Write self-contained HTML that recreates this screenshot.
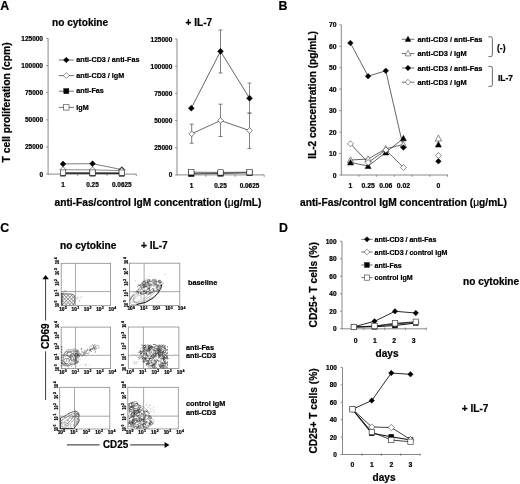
<!DOCTYPE html>
<html><head><meta charset="utf-8"><title>Figure</title>
<style>
html,body{margin:0;padding:0;background:#fff;}
body{width:520px;height:484px;overflow:hidden;font-family:"Liberation Sans",sans-serif;}
svg{display:block;filter:blur(0.35px)}
svg text{font-family:"Liberation Sans",sans-serif;font-weight:bold;stroke:#000;stroke-width:0.22px;}
</style></head><body>
<svg width="520" height="484" viewBox="0 0 520 484">
<rect width="520" height="484" fill="#fff"/>
<text transform="translate(0.2,10.0) scale(0.9,1)" font-size="13.7">A</text>
<text x="52" y="25.7" font-size="10.1" text-anchor="start" fill="#000" >no cytokine</text>
<text x="185.5" y="25.7" font-size="10.1" text-anchor="start" fill="#000" >+ IL-7</text>
<text x="9.7" y="102.4" font-size="10.3" text-anchor="middle" fill="#000" transform="rotate(-90 9.7 102.4)" >T cell proliferation (cpm)</text>
<line x1="48.1" y1="38.4" x2="48.1" y2="174.5" stroke="#6a6a6a" stroke-width="0.8"/>
<line x1="48.1" y1="174.1" x2="136.3" y2="174.1" stroke="#6a6a6a" stroke-width="0.8"/>
<line x1="77.7" y1="174.1" x2="77.7" y2="176.1" stroke="#6a6a6a" stroke-width="0.7"/>
<line x1="107" y1="174.1" x2="107" y2="176.1" stroke="#6a6a6a" stroke-width="0.7"/>
<line x1="136.3" y1="174.1" x2="136.3" y2="176.1" stroke="#6a6a6a" stroke-width="0.7"/>
<line x1="46.1" y1="174.1" x2="48.1" y2="174.1" stroke="#6a6a6a" stroke-width="0.7"/>
<text x="43.0" y="176.6" font-size="6.5" text-anchor="end" fill="#000" >0</text>
<line x1="46.1" y1="146.95999999999998" x2="48.1" y2="146.95999999999998" stroke="#6a6a6a" stroke-width="0.7"/>
<text x="43.0" y="149.45999999999998" font-size="6.5" text-anchor="end" fill="#000" >25000</text>
<line x1="46.1" y1="119.82" x2="48.1" y2="119.82" stroke="#6a6a6a" stroke-width="0.7"/>
<text x="43.0" y="122.32" font-size="6.5" text-anchor="end" fill="#000" >50000</text>
<line x1="46.1" y1="92.68" x2="48.1" y2="92.68" stroke="#6a6a6a" stroke-width="0.7"/>
<text x="43.0" y="95.18" font-size="6.5" text-anchor="end" fill="#000" >75000</text>
<line x1="46.1" y1="65.53999999999999" x2="48.1" y2="65.53999999999999" stroke="#6a6a6a" stroke-width="0.7"/>
<text x="43.0" y="68.03999999999999" font-size="6.5" text-anchor="end" fill="#000" >100000</text>
<line x1="46.1" y1="38.400000000000006" x2="48.1" y2="38.400000000000006" stroke="#6a6a6a" stroke-width="0.7"/>
<text x="43.0" y="40.900000000000006" font-size="6.5" text-anchor="end" fill="#000" >125000</text>
<text x="63" y="187.3" font-size="6.4" text-anchor="middle" fill="#000" >1</text>
<text x="92.5" y="187.3" font-size="6.4" text-anchor="middle" fill="#000" >0.25</text>
<text x="121.8" y="187.3" font-size="6.4" text-anchor="middle" fill="#000" >0.0625</text>
<polyline points="63,173.4 92.5,173.4 121.8,173.5" fill="none" stroke="#111" stroke-width="0.9"/>
<rect x="60.3" y="170.70000000000002" width="5.4" height="5.4" fill="#000" stroke="#000" stroke-width="0.5"/>
<rect x="89.8" y="170.70000000000002" width="5.4" height="5.4" fill="#000" stroke="#000" stroke-width="0.5"/>
<rect x="119.1" y="170.8" width="5.4" height="5.4" fill="#000" stroke="#000" stroke-width="0.5"/>
<polyline points="63,163.9 92.5,163.7 121.8,169.6" fill="none" stroke="#444" stroke-width="0.7"/>
<path d="M63 161.0L65.9 163.9L63 166.8L60.1 163.9Z" fill="#000" stroke="#000" stroke-width="0.5"/>
<path d="M92.5 160.79999999999998L95.4 163.7L92.5 166.6L89.6 163.7Z" fill="#000" stroke="#000" stroke-width="0.5"/>
<path d="M121.8 166.7L124.7 169.6L121.8 172.5L118.89999999999999 169.6Z" fill="#000" stroke="#000" stroke-width="0.5"/>
<polyline points="63,169.7 92.5,169.9 121.8,170.6" fill="none" stroke="#555" stroke-width="0.7"/>
<path d="M63 166.7L66.0 169.7L63 172.7L60.0 169.7Z" fill="#fff" stroke="#3a3a3a" stroke-width="0.6"/>
<path d="M92.5 166.9L95.5 169.9L92.5 172.9L89.5 169.9Z" fill="#fff" stroke="#3a3a3a" stroke-width="0.6"/>
<path d="M121.8 167.6L124.8 170.6L121.8 173.6L118.8 170.6Z" fill="#fff" stroke="#3a3a3a" stroke-width="0.6"/>
<polyline points="63,172.6 92.5,172.6 121.8,172.7" fill="none" stroke="#222" stroke-width="0.7"/>
<rect x="60.3" y="169.9" width="5.4" height="5.4" fill="#fff" stroke="#3a3a3a" stroke-width="0.65"/>
<rect x="89.8" y="169.9" width="5.4" height="5.4" fill="#fff" stroke="#3a3a3a" stroke-width="0.65"/>
<rect x="119.1" y="170.0" width="5.4" height="5.4" fill="#fff" stroke="#3a3a3a" stroke-width="0.65"/>
<line x1="58.8" y1="60" x2="73.8" y2="60" stroke="#333" stroke-width="0.7"/>
<path d="M66.3 57.2L69.1 60L66.3 62.8L63.5 60Z" fill="#000" stroke="#000" stroke-width="0.5"/>
<text x="76.3" y="62.1" font-size="7.2" text-anchor="start" fill="#000" >anti-CD3 / anti-Fas</text>
<line x1="58.8" y1="75.6" x2="73.8" y2="75.6" stroke="#333" stroke-width="0.7"/>
<path d="M66.3 72.6L69.3 75.6L66.3 78.6L63.3 75.6Z" fill="#fff" stroke="#3a3a3a" stroke-width="0.55"/>
<text x="76.3" y="77.69999999999999" font-size="7.2" text-anchor="start" fill="#000" >anti-CD3 / IgM</text>
<line x1="58.8" y1="91.2" x2="73.8" y2="91.2" stroke="#333" stroke-width="0.7"/>
<rect x="63.8" y="88.7" width="5.0" height="5.0" fill="#000" stroke="#000" stroke-width="0.5"/>
<text x="76.3" y="93.3" font-size="7.2" text-anchor="start" fill="#000" >anti-Fas</text>
<line x1="58.8" y1="107.4" x2="73.8" y2="107.4" stroke="#333" stroke-width="0.7"/>
<rect x="63.599999999999994" y="104.7" width="5.4" height="5.4" fill="#fff" stroke="#3a3a3a" stroke-width="0.6"/>
<text x="76.3" y="109.5" font-size="7.2" text-anchor="start" fill="#000" >IgM</text>
<line x1="177" y1="39.0" x2="177" y2="175.3" stroke="#6a6a6a" stroke-width="0.8"/>
<line x1="177" y1="174.9" x2="264.2" y2="174.9" stroke="#6a6a6a" stroke-width="0.8"/>
<line x1="206" y1="174.9" x2="206" y2="176.9" stroke="#6a6a6a" stroke-width="0.7"/>
<line x1="235.2" y1="174.9" x2="235.2" y2="176.9" stroke="#6a6a6a" stroke-width="0.7"/>
<line x1="264.2" y1="174.9" x2="264.2" y2="176.9" stroke="#6a6a6a" stroke-width="0.7"/>
<line x1="175" y1="174.9" x2="177" y2="174.9" stroke="#6a6a6a" stroke-width="0.7"/>
<text x="172.3" y="177.4" font-size="6.5" text-anchor="end" fill="#000" >0</text>
<line x1="175" y1="147.72" x2="177" y2="147.72" stroke="#6a6a6a" stroke-width="0.7"/>
<text x="172.3" y="150.22" font-size="6.5" text-anchor="end" fill="#000" >25000</text>
<line x1="175" y1="120.53999999999999" x2="177" y2="120.53999999999999" stroke="#6a6a6a" stroke-width="0.7"/>
<text x="172.3" y="123.03999999999999" font-size="6.5" text-anchor="end" fill="#000" >50000</text>
<line x1="175" y1="93.36" x2="177" y2="93.36" stroke="#6a6a6a" stroke-width="0.7"/>
<text x="172.3" y="95.86" font-size="6.5" text-anchor="end" fill="#000" >75000</text>
<line x1="175" y1="66.17999999999999" x2="177" y2="66.17999999999999" stroke="#6a6a6a" stroke-width="0.7"/>
<text x="172.3" y="68.67999999999999" font-size="6.5" text-anchor="end" fill="#000" >100000</text>
<line x1="175" y1="39.0" x2="177" y2="39.0" stroke="#6a6a6a" stroke-width="0.7"/>
<text x="172.3" y="41.5" font-size="6.5" text-anchor="end" fill="#000" >125000</text>
<text x="191.5" y="187.6" font-size="6.4" text-anchor="middle" fill="#000" >1</text>
<text x="220.5" y="187.6" font-size="6.4" text-anchor="middle" fill="#000" >0.25</text>
<text x="249.5" y="187.6" font-size="6.4" text-anchor="middle" fill="#000" >0.0625</text>
<line x1="220.5" y1="30" x2="220.5" y2="73" stroke="#555" stroke-width="0.75"/>
<line x1="218.5" y1="30" x2="222.5" y2="30" stroke="#555" stroke-width="0.75"/>
<line x1="218.5" y1="73" x2="222.5" y2="73" stroke="#555" stroke-width="0.75"/>
<line x1="249.5" y1="83" x2="249.5" y2="113" stroke="#666" stroke-width="0.75"/>
<line x1="247.5" y1="83" x2="251.5" y2="83" stroke="#666" stroke-width="0.75"/>
<line x1="247.5" y1="113" x2="251.5" y2="113" stroke="#666" stroke-width="0.75"/>
<line x1="191.7" y1="124.2" x2="191.7" y2="143.2" stroke="#555" stroke-width="0.75"/>
<line x1="189.7" y1="124.2" x2="193.7" y2="124.2" stroke="#555" stroke-width="0.75"/>
<line x1="189.7" y1="143.2" x2="193.7" y2="143.2" stroke="#555" stroke-width="0.75"/>
<line x1="220.5" y1="104.2" x2="220.5" y2="136.5" stroke="#555" stroke-width="0.75"/>
<line x1="218.5" y1="104.2" x2="222.5" y2="104.2" stroke="#555" stroke-width="0.75"/>
<line x1="218.5" y1="136.5" x2="222.5" y2="136.5" stroke="#555" stroke-width="0.75"/>
<line x1="249.5" y1="113.2" x2="249.5" y2="148.6" stroke="#555" stroke-width="0.75"/>
<line x1="247.5" y1="113.2" x2="251.5" y2="113.2" stroke="#555" stroke-width="0.75"/>
<line x1="247.5" y1="148.6" x2="251.5" y2="148.6" stroke="#555" stroke-width="0.75"/>
<polyline points="191.3,173.8 220.5,173.5 249.5,172.8" fill="none" stroke="#111" stroke-width="0.8"/>
<rect x="188.60000000000002" y="171.10000000000002" width="5.4" height="5.4" fill="#000" stroke="#000" stroke-width="0.5"/>
<rect x="217.8" y="170.8" width="5.4" height="5.4" fill="#000" stroke="#000" stroke-width="0.5"/>
<rect x="246.8" y="170.10000000000002" width="5.4" height="5.4" fill="#000" stroke="#000" stroke-width="0.5"/>
<polyline points="191.3,108.2 220.5,51.3 249.5,98.2" fill="none" stroke="#333" stroke-width="0.75"/>
<path d="M191.3 105.25L194.25 108.2L191.3 111.15L188.35000000000002 108.2Z" fill="#000" stroke="#000" stroke-width="0.5"/>
<path d="M220.5 48.349999999999994L223.45 51.3L220.5 54.25L217.55 51.3Z" fill="#000" stroke="#000" stroke-width="0.5"/>
<path d="M249.5 95.25L252.45 98.2L249.5 101.15L246.55 98.2Z" fill="#000" stroke="#000" stroke-width="0.5"/>
<polyline points="191.7,133.8 220.5,120.5 249.5,130.5" fill="none" stroke="#444" stroke-width="0.8"/>
<path d="M191.7 130.95000000000002L194.54999999999998 133.8L191.7 136.65L188.85 133.8Z" fill="#fff" stroke="#3a3a3a" stroke-width="0.65"/>
<path d="M220.5 117.65L223.35 120.5L220.5 123.35L217.65 120.5Z" fill="#fff" stroke="#3a3a3a" stroke-width="0.65"/>
<path d="M249.5 127.65L252.35 130.5L249.5 133.35L246.65 130.5Z" fill="#fff" stroke="#3a3a3a" stroke-width="0.65"/>
<polyline points="191.3,172.2 220.5,172.4 249.5,172.2" fill="none" stroke="#222" stroke-width="0.7"/>
<rect x="188.60000000000002" y="169.5" width="5.4" height="5.4" fill="#fff" stroke="#3a3a3a" stroke-width="0.65"/>
<rect x="217.8" y="169.70000000000002" width="5.4" height="5.4" fill="#fff" stroke="#3a3a3a" stroke-width="0.65"/>
<rect x="246.8" y="169.5" width="5.4" height="5.4" fill="#fff" stroke="#3a3a3a" stroke-width="0.65"/>
<text x="54.5" y="206.2" font-size="10.2" text-anchor="start" fill="#000" >anti-Fas/control IgM concentration (<tspan font-weight="normal">μ</tspan>g/mL)</text>
<text transform="translate(278.6,10.0) scale(0.9,1)" font-size="13.7">B</text>
<text x="315.8" y="95" font-size="10.15" text-anchor="middle" fill="#000" transform="rotate(-90 315.8 95)" >IL-2 concentration (pg/mL)</text>
<line x1="341.3" y1="24.8" x2="341.3" y2="175.4" stroke="#6a6a6a" stroke-width="0.8"/>
<line x1="341.3" y1="175.0" x2="448" y2="175.0" stroke="#6a6a6a" stroke-width="0.8"/>
<line x1="339.3" y1="175.0" x2="341.3" y2="175.0" stroke="#6a6a6a" stroke-width="0.7"/>
<text x="336.5" y="177.5" font-size="6.8" text-anchor="end" fill="#000" >0</text>
<line x1="339.3" y1="153.54285714285714" x2="341.3" y2="153.54285714285714" stroke="#6a6a6a" stroke-width="0.7"/>
<text x="336.5" y="156.04285714285714" font-size="6.8" text-anchor="end" fill="#000" >10</text>
<line x1="339.3" y1="132.0857142857143" x2="341.3" y2="132.0857142857143" stroke="#6a6a6a" stroke-width="0.7"/>
<text x="336.5" y="134.5857142857143" font-size="6.8" text-anchor="end" fill="#000" >20</text>
<line x1="339.3" y1="110.62857142857143" x2="341.3" y2="110.62857142857143" stroke="#6a6a6a" stroke-width="0.7"/>
<text x="336.5" y="113.12857142857143" font-size="6.8" text-anchor="end" fill="#000" >30</text>
<line x1="339.3" y1="89.17142857142858" x2="341.3" y2="89.17142857142858" stroke="#6a6a6a" stroke-width="0.7"/>
<text x="336.5" y="91.67142857142858" font-size="6.8" text-anchor="end" fill="#000" >40</text>
<line x1="339.3" y1="67.71428571428572" x2="341.3" y2="67.71428571428572" stroke="#6a6a6a" stroke-width="0.7"/>
<text x="336.5" y="70.21428571428572" font-size="6.8" text-anchor="end" fill="#000" >50</text>
<line x1="339.3" y1="46.25714285714287" x2="341.3" y2="46.25714285714287" stroke="#6a6a6a" stroke-width="0.7"/>
<text x="336.5" y="48.75714285714287" font-size="6.8" text-anchor="end" fill="#000" >60</text>
<line x1="339.3" y1="24.80000000000001" x2="341.3" y2="24.80000000000001" stroke="#6a6a6a" stroke-width="0.7"/>
<text x="336.5" y="27.30000000000001" font-size="6.8" text-anchor="end" fill="#000" >70</text>
<line x1="359.0" y1="175.0" x2="359.0" y2="176.8" stroke="#6a6a6a" stroke-width="0.7"/>
<line x1="376.7" y1="175.0" x2="376.7" y2="176.8" stroke="#6a6a6a" stroke-width="0.7"/>
<line x1="394.4" y1="175.0" x2="394.4" y2="176.8" stroke="#6a6a6a" stroke-width="0.7"/>
<line x1="412.1" y1="175.0" x2="412.1" y2="176.8" stroke="#6a6a6a" stroke-width="0.7"/>
<line x1="429.8" y1="175.0" x2="429.8" y2="176.8" stroke="#6a6a6a" stroke-width="0.7"/>
<line x1="447.5" y1="175.0" x2="447.5" y2="176.8" stroke="#6a6a6a" stroke-width="0.7"/>
<text x="350.5" y="187.9" font-size="6.8" text-anchor="middle" fill="#000" >1</text>
<text x="368.1" y="187.9" font-size="6.8" text-anchor="middle" fill="#000" >0.25</text>
<text x="385.8" y="187.9" font-size="6.8" text-anchor="middle" fill="#000" >0.06</text>
<text x="403.4" y="187.9" font-size="6.8" text-anchor="middle" fill="#000" >0.02</text>
<text x="438.4" y="187.9" font-size="6.8" text-anchor="middle" fill="#000" >0</text>
<polyline points="350.5,162.5 368.1,166 385.8,152.5 403.4,138.3" fill="none" stroke="#222" stroke-width="0.7"/>
<polyline points="350.5,160 368.1,159 385.8,148.8 403.4,144.5" fill="none" stroke="#222" stroke-width="0.7"/>
<polyline points="350.4,43 368.1,76.2 385.8,70.8 403.4,147.5" fill="none" stroke="#222" stroke-width="0.7"/>
<polyline points="350.5,143.8 368.1,162.5 385.8,150 403.4,167.5" fill="none" stroke="#222" stroke-width="0.7"/>
<path d="M350.5 156.8L353.7 162.72L347.3 162.72Z" fill="#fff" stroke="#3a3a3a" stroke-width="0.6"/>
<path d="M368.1 155.8L371.3 161.72L364.90000000000003 161.72Z" fill="#fff" stroke="#3a3a3a" stroke-width="0.6"/>
<path d="M385.8 145.60000000000002L389.0 151.52L382.6 151.52Z" fill="#fff" stroke="#3a3a3a" stroke-width="0.6"/>
<path d="M403.4 141.3L406.59999999999997 147.22L400.2 147.22Z" fill="#fff" stroke="#3a3a3a" stroke-width="0.6"/>
<path d="M350.5 159.5L353.5 165.05L347.5 165.05Z" fill="#000" stroke="#000" stroke-width="0.5"/>
<path d="M368.1 163.0L371.1 168.55L365.1 168.55Z" fill="#000" stroke="#000" stroke-width="0.5"/>
<path d="M385.8 149.5L388.8 155.05L382.8 155.05Z" fill="#000" stroke="#000" stroke-width="0.5"/>
<path d="M403.4 135.3L406.4 140.85000000000002L400.4 140.85000000000002Z" fill="#000" stroke="#000" stroke-width="0.5"/>
<path d="M350.5 140.8L353.5 143.8L350.5 146.8L347.5 143.8Z" fill="#fff" stroke="#3a3a3a" stroke-width="0.6"/>
<path d="M368.1 159.5L371.1 162.5L368.1 165.5L365.1 162.5Z" fill="#fff" stroke="#3a3a3a" stroke-width="0.6"/>
<path d="M385.8 147.0L388.8 150L385.8 153.0L382.8 150Z" fill="#fff" stroke="#3a3a3a" stroke-width="0.6"/>
<path d="M403.4 164.5L406.4 167.5L403.4 170.5L400.4 167.5Z" fill="#fff" stroke="#3a3a3a" stroke-width="0.6"/>
<path d="M350.4 40.2L353.2 43L350.4 45.8L347.59999999999997 43Z" fill="#000" stroke="#000" stroke-width="0.5"/>
<path d="M368.1 73.4L370.90000000000003 76.2L368.1 79.0L365.3 76.2Z" fill="#000" stroke="#000" stroke-width="0.5"/>
<path d="M385.8 68.0L388.6 70.8L385.8 73.6L383.0 70.8Z" fill="#000" stroke="#000" stroke-width="0.5"/>
<path d="M403.4 144.7L406.2 147.5L403.4 150.3L400.59999999999997 147.5Z" fill="#000" stroke="#000" stroke-width="0.5"/>
<path d="M438.4 135.10000000000002L441.59999999999997 141.02L435.2 141.02Z" fill="#fff" stroke="#3a3a3a" stroke-width="0.6"/>
<path d="M438.4 141.5L441.4 147.05L435.4 147.05Z" fill="#000" stroke="#000" stroke-width="0.5"/>
<path d="M438.4 152.5L441.4 155.5L438.4 158.5L435.4 155.5Z" fill="#fff" stroke="#3a3a3a" stroke-width="0.6"/>
<path d="M438.4 158.5L441.2 161.3L438.4 164.10000000000002L435.59999999999997 161.3Z" fill="#000" stroke="#000" stroke-width="0.5"/>
<line x1="401.8" y1="39.3" x2="414.5" y2="39.3" stroke="#333" stroke-width="0.7"/>
<path d="M408 36.2L410.8 41.38L405.2 41.38Z" fill="#000" stroke="#000" stroke-width="0.5"/>
<text x="417.5" y="41.9" font-size="7.4" text-anchor="start" fill="#000" >anti-CD3 / anti-Fas</text>
<line x1="401.8" y1="53.6" x2="414.5" y2="53.6" stroke="#333" stroke-width="0.7"/>
<path d="M408 50.300000000000004L411.0 55.85L405.0 55.85Z" fill="#fff" stroke="#3a3a3a" stroke-width="0.55"/>
<text x="417.5" y="56.2" font-size="7.4" text-anchor="start" fill="#000" >anti-CD3 / IgM</text>
<line x1="401.8" y1="68" x2="414.5" y2="68" stroke="#333" stroke-width="0.7"/>
<path d="M408 65.3L410.7 68L408 70.7L405.3 68Z" fill="#000" stroke="#000" stroke-width="0.5"/>
<text x="417.5" y="70.6" font-size="7.4" text-anchor="start" fill="#000" >anti-CD3 / anti-Fas</text>
<line x1="401.8" y1="82.2" x2="414.5" y2="82.2" stroke="#333" stroke-width="0.7"/>
<path d="M408 79.3L410.9 82.2L408 85.10000000000001L405.1 82.2Z" fill="#fff" stroke="#3a3a3a" stroke-width="0.55"/>
<text x="417.5" y="84.8" font-size="7.4" text-anchor="start" fill="#000" >anti-CD3 / IgM</text>
<path d="M488.4 36.8L490.79999999999995 36.8Q492.4 36.8 492.4 38.599999999999994L492.4 54.800000000000004Q492.4 56.6 490.79999999999995 56.6L488.4 56.6" fill="none" stroke="#444" stroke-width="0.8"/>
<path d="M488.4 66.4L490.79999999999995 66.4Q492.4 66.4 492.4 68.2L492.4 84.60000000000001Q492.4 86.4 490.79999999999995 86.4L488.4 86.4" fill="none" stroke="#444" stroke-width="0.8"/>
<text x="497" y="51" font-size="8.5" text-anchor="start" fill="#000" >(-)</text>
<text x="498" y="81" font-size="8.4" text-anchor="start" fill="#000" >IL-7</text>
<text x="300" y="206.2" font-size="10.2" text-anchor="start" fill="#000" >anti-Fas/control IgM concentration (<tspan font-weight="normal">μ</tspan>g/mL)</text>
<text transform="translate(0.3,231.7) scale(0.9,1)" font-size="13.7">C</text>
<text x="60" y="248.8" font-size="10.15" text-anchor="start" fill="#000" >no cytokine</text>
<text x="141" y="248.8" font-size="10.1" text-anchor="start" fill="#000" >+ IL-7</text>
<line x1="45.6" y1="279" x2="45.6" y2="320.5" stroke="#222" stroke-width="0.9"/>
<line x1="45.6" y1="351.3" x2="45.6" y2="400" stroke="#222" stroke-width="0.9"/>
<path d="M45.6 275.0L48.9 279.3L42.4 279.3Z" fill="#000"/>
<text x="48.8" y="336.2" font-size="10.6" text-anchor="middle" fill="#000" transform="rotate(-90 48.8 336.2)" textLength="25.8" lengthAdjust="spacingAndGlyphs">CD69</text>
<line x1="66.9" y1="444.9" x2="99.5" y2="444.9" stroke="#111" stroke-width="0.9"/>
<line x1="130.2" y1="444.9" x2="165.5" y2="444.9" stroke="#111" stroke-width="0.9"/>
<path d="M169.4 445L164.6 442L164.6 448Z" fill="#000"/>
<text x="103" y="448.1" font-size="10.4" text-anchor="start" fill="#000" textLength="25.2" lengthAdjust="spacingAndGlyphs">CD25</text>
<text x="188" y="285.1" font-size="7.3" text-anchor="start" fill="#000" >baseline</text>
<text x="186" y="349.7" font-size="7.3" text-anchor="start" fill="#000" >anti-Fas</text>
<text x="186" y="358.2" font-size="7.3" text-anchor="start" fill="#000" >anti-CD3</text>
<text x="186" y="406.3" font-size="7.3" text-anchor="start" fill="#000" >control IgM</text>
<text x="186" y="414.8" font-size="7.3" text-anchor="start" fill="#000" >anti-CD3</text>
<rect x="61.2" y="263.3" width="49.39999999999999" height="42.39999999999998" fill="#fff" stroke="#8a8a8a" stroke-width="0.8"/>
<line x1="75.4" y1="263.3" x2="75.4" y2="305.7" stroke="#8a8a8a" stroke-width="0.75"/>
<line x1="61.2" y1="291.6" x2="110.6" y2="291.6" stroke="#8a8a8a" stroke-width="0.75"/>
<text x="61.8" y="310.70" font-size="4.8" text-anchor="middle" fill="#000" stroke="#000" stroke-width="0.3">10</text>
<text x="64.8" y="308.90" font-size="3.5" text-anchor="start" fill="#000" stroke="#000" stroke-width="0.3">0</text>
<text transform="translate(59.2 305.2) rotate(-90) scale(0.72 1.04)" font-size="5.3" text-anchor="middle" fill="#000" stroke="#000" stroke-width="0.3">10</text>
<text transform="translate(57.2 302.4) rotate(-90) scale(0.95 1.04)" font-size="3.6" text-anchor="start" fill="#000" stroke="#000" stroke-width="0.3">0</text>
<text x="74.2" y="310.70" font-size="4.8" text-anchor="middle" fill="#000" stroke="#000" stroke-width="0.3">10</text>
<text x="77.2" y="308.90" font-size="3.5" text-anchor="start" fill="#000" stroke="#000" stroke-width="0.3">1</text>
<text transform="translate(59.2 294.4) rotate(-90) scale(0.72 1.04)" font-size="5.3" text-anchor="middle" fill="#000" stroke="#000" stroke-width="0.3">10</text>
<text transform="translate(57.2 291.6) rotate(-90) scale(0.95 1.04)" font-size="3.6" text-anchor="start" fill="#000" stroke="#000" stroke-width="0.3">1</text>
<text x="86.5" y="310.70" font-size="4.8" text-anchor="middle" fill="#000" stroke="#000" stroke-width="0.3">10</text>
<text x="89.5" y="308.90" font-size="3.5" text-anchor="start" fill="#000" stroke="#000" stroke-width="0.3">2</text>
<text transform="translate(59.2 283.6) rotate(-90) scale(0.72 1.04)" font-size="5.3" text-anchor="middle" fill="#000" stroke="#000" stroke-width="0.3">10</text>
<text transform="translate(57.2 280.9) rotate(-90) scale(0.95 1.04)" font-size="3.6" text-anchor="start" fill="#000" stroke="#000" stroke-width="0.3">2</text>
<text x="98.8" y="310.70" font-size="4.8" text-anchor="middle" fill="#000" stroke="#000" stroke-width="0.3">10</text>
<text x="101.8" y="308.90" font-size="3.5" text-anchor="start" fill="#000" stroke="#000" stroke-width="0.3">3</text>
<text transform="translate(59.2 272.8) rotate(-90) scale(0.72 1.04)" font-size="5.3" text-anchor="middle" fill="#000" stroke="#000" stroke-width="0.3">10</text>
<text transform="translate(57.2 270.1) rotate(-90) scale(0.95 1.04)" font-size="3.6" text-anchor="start" fill="#000" stroke="#000" stroke-width="0.3">3</text>
<text x="111.2" y="310.70" font-size="4.8" text-anchor="middle" fill="#000" stroke="#000" stroke-width="0.3">10</text>
<text x="114.2" y="308.90" font-size="3.5" text-anchor="start" fill="#000" stroke="#000" stroke-width="0.3">4</text>
<text transform="translate(59.2 262.0) rotate(-90) scale(0.72 1.04)" font-size="5.3" text-anchor="middle" fill="#000" stroke="#000" stroke-width="0.3">10</text>
<text transform="translate(57.2 259.2) rotate(-90) scale(0.95 1.04)" font-size="3.6" text-anchor="start" fill="#000" stroke="#000" stroke-width="0.3">4</text>
<clipPath id="c1"><rect x="61.400000000000006" y="263.3" width="49.19999999999999" height="42.299999999999976"/></clipPath>
<g clip-path="url(#c1)">
<clipPath id="b1"><path d="M61.3 293.8L71.5 294Q74.6 294.2 74.7 297L74.7 302Q74.4 305.3 72 305.5L61.3 305.5Z"/></clipPath>
<path d="M61.3 293.8L71.5 294Q74.6 294.2 74.7 297L74.7 302Q74.4 305.3 72 305.5L61.3 305.5Z" fill="#f4f4f4" stroke="none"/>
<g clip-path="url(#b1)">
<path d="M39.4 292L53.4 306M53.4 292L39.4 306M43.0 292L57.0 306M57.0 292L43.0 306M46.6 292L60.6 306M60.6 292L46.6 306M50.2 292L64.2 306M64.2 292L50.2 306M53.8 292L67.8 306M67.8 292L53.8 306M57.4 292L71.4 306M71.4 292L57.4 306M61.0 292L75.0 306M75.0 292L61.0 306M64.6 292L78.6 306M78.6 292L64.6 306M68.2 292L82.2 306M82.2 292L68.2 306M71.8 292L85.8 306M85.8 292L71.8 306M75.4 292L89.4 306M89.4 292L75.4 306M79.0 292L93.0 306M93.0 292L79.0 306M82.6 292L96.6 306M96.6 292L82.6 306M86.2 292L100.2 306M100.2 292L86.2 306M89.8 292L103.8 306M103.8 292L89.8 306M93.4 292L107.4 306M107.4 292L93.4 306M97.0 292L111.0 306M111.0 292L97.0 306M100.6 292L114.6 306M114.6 292L100.6 306" stroke="#777" stroke-width="0.75" fill="none"/>
</g>
<path d="M61.3 293.8L71.5 294Q74.6 294.2 74.7 297L74.7 302Q74.4 305.3 72 305.5L61.3 305.5Z" fill="none" stroke="#555" stroke-width="0.75"/>
<line x1="61.8" y1="292.8" x2="61.8" y2="305.6" stroke="#000" stroke-width="1.1"/>
<path d="M77.9 296.8l-0.3 0.6M79.2 297.8l1.4 0.3M76.2 298.2l0.7 0.2M78.5 300.1l0.9 0.4M79.8 300.7l-0.3 1.2M81.9 296.2l-1.0 0.5M76.9 296.6l1.1 1.6M77.1 298.9l-0.5 1.1" stroke="#999" stroke-width="0.4" fill="none" stroke-linecap="round"/>
<path d="M65.2 290.2l0.9 0.2M65.7 291.1l0.8 1.3M64.8 290.7l-1.4 1.0M64.0 291.4l-0.2 2.0" stroke="#777" stroke-width="0.4" fill="none" stroke-linecap="round"/>
</g>
<rect x="129.5" y="263.2" width="50.30000000000001" height="42.19999999999999" fill="#fff" stroke="#8a8a8a" stroke-width="0.8"/>
<line x1="144.1" y1="263.2" x2="144.1" y2="305.4" stroke="#8a8a8a" stroke-width="0.75"/>
<line x1="129.5" y1="291.7" x2="179.8" y2="291.7" stroke="#8a8a8a" stroke-width="0.75"/>
<text x="130.1" y="310.40" font-size="4.8" text-anchor="middle" fill="#000" stroke="#000" stroke-width="0.3">10</text>
<text x="133.1" y="308.60" font-size="3.5" text-anchor="start" fill="#000" stroke="#000" stroke-width="0.3">0</text>
<text transform="translate(127.5 305.1) rotate(-90) scale(0.72 1.04)" font-size="5.3" text-anchor="middle" fill="#000" stroke="#000" stroke-width="0.3">10</text>
<text transform="translate(125.5 302.3) rotate(-90) scale(0.95 1.04)" font-size="3.6" text-anchor="start" fill="#000" stroke="#000" stroke-width="0.3">0</text>
<text x="142.7" y="310.40" font-size="4.8" text-anchor="middle" fill="#000" stroke="#000" stroke-width="0.3">10</text>
<text x="145.7" y="308.60" font-size="3.5" text-anchor="start" fill="#000" stroke="#000" stroke-width="0.3">1</text>
<text transform="translate(127.5 294.3) rotate(-90) scale(0.72 1.04)" font-size="5.3" text-anchor="middle" fill="#000" stroke="#000" stroke-width="0.3">10</text>
<text transform="translate(125.5 291.5) rotate(-90) scale(0.95 1.04)" font-size="3.6" text-anchor="start" fill="#000" stroke="#000" stroke-width="0.3">1</text>
<text x="155.2" y="310.40" font-size="4.8" text-anchor="middle" fill="#000" stroke="#000" stroke-width="0.3">10</text>
<text x="158.2" y="308.60" font-size="3.5" text-anchor="start" fill="#000" stroke="#000" stroke-width="0.3">2</text>
<text transform="translate(127.5 283.5) rotate(-90) scale(0.72 1.04)" font-size="5.3" text-anchor="middle" fill="#000" stroke="#000" stroke-width="0.3">10</text>
<text transform="translate(125.5 280.8) rotate(-90) scale(0.95 1.04)" font-size="3.6" text-anchor="start" fill="#000" stroke="#000" stroke-width="0.3">2</text>
<text x="167.8" y="310.40" font-size="4.8" text-anchor="middle" fill="#000" stroke="#000" stroke-width="0.3">10</text>
<text x="170.8" y="308.60" font-size="3.5" text-anchor="start" fill="#000" stroke="#000" stroke-width="0.3">3</text>
<text transform="translate(127.5 272.7) rotate(-90) scale(0.72 1.04)" font-size="5.3" text-anchor="middle" fill="#000" stroke="#000" stroke-width="0.3">10</text>
<text transform="translate(125.5 269.9) rotate(-90) scale(0.95 1.04)" font-size="3.6" text-anchor="start" fill="#000" stroke="#000" stroke-width="0.3">3</text>
<text x="180.4" y="310.40" font-size="4.8" text-anchor="middle" fill="#000" stroke="#000" stroke-width="0.3">10</text>
<text x="183.4" y="308.60" font-size="3.5" text-anchor="start" fill="#000" stroke="#000" stroke-width="0.3">4</text>
<text transform="translate(127.5 261.9) rotate(-90) scale(0.72 1.04)" font-size="5.3" text-anchor="middle" fill="#000" stroke="#000" stroke-width="0.3">10</text>
<text transform="translate(125.5 259.1) rotate(-90) scale(0.95 1.04)" font-size="3.6" text-anchor="start" fill="#000" stroke="#000" stroke-width="0.3">4</text>
<clipPath id="c2"><rect x="129.7" y="263.2" width="50.10000000000001" height="42.09999999999999"/></clipPath>
<g clip-path="url(#c2)">
<path d="M160.1 282.8L160.9 284.5L160.1 286.9L159.1 289.4L158.1 292.2L155.6 295.3L151.6 297.9L147.9 299.9L144.3 301.9L140.7 303.5L137.4 304.3L134.3 304.8L131.7 304.6L130.4 303.1L130.0 301.2L129.8 299.1L131.2 296.3L134.2 293.4L137.0 290.7L139.5 287.9L142.9 285.0L146.8 283.0L150.5 281.6L153.9 280.8L156.6 281.0L158.4 281.8Z" fill="none" stroke="#777" stroke-width="0.5" stroke-linejoin="round"/>
<path d="M157.3 285.1L157.9 286.4L157.6 288.2L156.0 290.4L154.2 292.7L152.2 294.9L149.4 296.9L146.5 298.5L143.7 300.6L140.3 302.9L137.4 303.7L135.9 302.9L134.6 302.1L133.3 301.5L133.1 300.1L133.5 298.4L133.9 296.6L135.4 294.4L137.8 292.1L140.2 289.7L143.1 287.4L146.3 286.2L148.7 286.0L151.1 285.3L154.2 284.1L156.4 284.0Z" fill="none" stroke="#777" stroke-width="0.45" stroke-linejoin="round"/>
<path d="M149.8 290.1L150.1 291.1L149.3 292.6L148.6 294.0L147.9 295.4L146.2 296.9L144.2 298.1L142.7 299.4L140.8 301.3L138.6 302.4L136.9 302.5L135.7 302.3L134.7 302.0L134.4 301.1L134.0 300.3L133.6 299.5L134.1 298.1L135.5 296.6L136.6 295.0L137.9 293.3L140.1 291.9L142.1 291.6L143.7 291.1L145.6 290.1L147.3 289.7L148.6 289.8Z" fill="none" stroke="#888" stroke-width="0.45" stroke-linejoin="round"/>
<path d="M140.8 296.6L141.1 297.0L141.9 297.3L141.9 298.0L141.0 299.0L140.3 299.8L139.6 300.7L138.5 301.5L137.4 301.7L136.4 301.9L135.6 302.1L134.8 302.1L133.9 302.3L132.7 302.4L132.5 301.7L133.4 300.6L134.0 299.8L134.1 299.0L134.8 298.2L135.8 297.6L136.7 296.9L137.6 296.0L138.8 295.4L139.8 295.2L140.7 295.2L141.1 295.7Z" fill="none" stroke="#888" stroke-width="0.45" stroke-linejoin="round"/>
<path d="M136.5 304.6Q146 303.6 153.5 297.8Q158.5 293.6 160.8 288.5L161.8 284.5" fill="none" stroke="#111" stroke-width="0.95"/>
<path d="M130.3 300.5L131.5 297.5L134 294.5" fill="none" stroke="#333" stroke-width="0.7"/>
<path d="M160.3 282.3l-0.8 1.1M151.4 284.8l-1.7 0.9M148.2 288.3l1.5 0.3M158.7 281.8l0.5 1.4M145.7 291.8l1.1 0.3M150.5 292.0l-1.5 1.0M142.4 284.1l0.8 1.6M141.0 285.2l-0.2 0.9M145.1 286.6l-1.5 0.2M149.5 287.5l-0.3 0.5M145.8 283.8l1.4 0.5M152.4 279.5l0.7 0.7M148.0 285.2l0.6 0.2M144.3 281.5l-0.6 0.4M149.8 279.5l-0.1 0.5M149.8 293.6l-1.4 0.6M141.8 283.2l1.4 0.8M150.0 290.2l0.4 0.7M158.5 289.6l1.0 0.8M141.8 288.8l-1.2 0.2M152.7 292.3l-1.1 0.6M153.6 290.6l1.4 0.4M156.5 285.1l1.4 0.9M144.0 290.6l-1.1 0.1M146.0 293.1l-0.5 0.6M138.4 291.1l-1.5 0.1M144.5 286.3l0.5 0.2M149.8 292.9l0.4 1.8M158.8 280.6l0.7 0.7M141.2 287.0l0.8 0.8M144.6 284.8l-0.5 1.8M146.6 292.6l-0.0 1.3M147.2 280.1l1.7 0.0M139.2 285.0l-0.9 1.0M143.8 285.8l-0.3 1.7M137.2 286.5l0.7 0.6M157.2 285.6l-0.3 1.6M161.4 284.5l-0.4 1.2M149.4 288.8l0.2 1.3M148.3 293.0l-1.1 1.5M150.8 293.0l-0.6 0.3M138.6 289.2l-0.3 0.6M140.6 293.2l0.4 1.2M138.8 284.3l-0.0 1.0M150.6 284.5l1.0 0.1M152.7 285.7l1.9 0.4M146.7 292.5l-0.7 0.5M138.5 292.6l-0.3 1.5M154.6 284.2l1.9 0.4M153.0 290.6l1.7 0.5M147.6 282.8l-0.3 1.9M149.8 281.1l0.7 0.3M143.4 282.2l-0.7 0.6M149.0 280.0l0.2 0.5M156.0 286.4l1.0 0.7M158.6 284.3l0.0 1.8M145.8 285.6l-1.1 1.6M144.3 291.1l-0.9 1.2M146.1 282.9l0.7 0.1M142.8 284.8l1.0 0.6M141.9 293.4l-1.3 0.1M141.3 293.4l0.6 0.9M148.2 285.5l1.0 0.7M151.6 286.0l-1.1 1.0M145.7 282.5l-0.7 0.0M155.7 287.9l1.7 0.2M156.0 290.8l1.2 0.5M149.1 291.2l-1.4 1.0M151.5 292.2l-0.8 1.3M137.1 291.2l-0.3 1.4M152.8 288.6l0.0 0.5M157.9 289.7l-0.0 1.3M156.1 281.3l0.9 0.2M155.9 280.5l-1.3 1.4M148.8 283.5l0.1 1.5M157.0 287.5l-0.3 0.6M156.3 282.2l-0.1 0.5M154.2 288.8l-0.5 0.8M149.5 284.9l0.1 0.7M160.8 280.4l-1.9 0.1M147.5 281.6l1.5 1.2M140.3 286.9l1.2 0.6M158.6 285.6l-1.5 0.5M140.9 292.3l0.0 0.5M147.5 282.1l0.9 0.4M143.5 291.3l1.6 0.0M161.0 281.9l0.4 1.0M144.8 284.3l0.4 0.4M137.1 291.2l1.2 1.5M149.3 280.2l0.7 1.8M152.9 292.5l-1.3 0.2M156.0 284.7l-1.0 1.0M148.2 282.8l1.0 1.3M153.7 282.1l-0.2 1.1M140.2 292.4l0.0 0.8M151.1 292.1l-0.8 0.8M146.4 285.9l0.4 0.9M149.1 287.7l-0.7 0.3M146.0 284.6l-1.8 0.3M160.9 285.0l-0.1 0.5M145.7 292.8l-1.5 0.9M149.7 288.6l-1.6 0.3M153.4 290.0l0.2 1.3M141.0 292.6l-0.4 0.9M153.1 288.9l0.6 0.2M149.7 286.9l0.3 0.8M143.0 284.8l-1.5 0.2M160.5 285.1l0.6 0.6M148.9 288.5l0.2 0.9M144.1 284.1l-0.4 0.7M157.9 289.6l-0.0 0.8M158.6 280.9l1.3 1.1M142.8 293.2l0.0 0.8M140.7 284.1l-1.0 1.7M140.4 293.6l0.5 0.2M161.9 282.6l1.6 1.0M153.9 283.4l0.4 0.9M142.4 283.0l-0.7 0.1M144.7 291.0l-1.0 0.6M145.2 292.6l0.9 0.6M146.3 290.8l-0.4 0.4M161.6 281.4l-1.3 1.3M144.2 281.6l-1.4 0.2M141.9 289.2l0.5 0.8M141.0 285.1l-1.9 0.3M145.6 281.3l0.3 1.2M158.1 289.6l-1.4 0.9M152.2 282.6l0.6 0.9M139.9 289.8l0.4 0.4M143.8 293.7l-1.9 0.7M155.3 284.6l0.8 0.8M152.6 288.5l-1.2 1.3M153.9 279.1l-0.8 0.5M151.0 283.3l-0.5 0.6M138.6 292.0l-0.2 1.0" stroke="#333" stroke-width="0.45" fill="none" stroke-linecap="round"/>
<path d="M145.6 292.5L145.6 292.0L145.7 291.4L146.4 291.0L146.9 291.2L147.5 291.2L147.7 291.7L147.1 292.3L146.6 292.7L145.9 293.0Z" fill="none" stroke="#555" stroke-width="0.4" stroke-linejoin="round"/>
<path d="M150.3 290.1L149.2 290.6L148.7 291.1L147.7 291.3L147.0 290.5L147.4 289.7L147.1 288.7L148.1 288.3L148.9 288.8L149.6 289.2Z" fill="none" stroke="#555" stroke-width="0.4" stroke-linejoin="round"/>
<path d="M158.9 287.7L159.3 286.9L159.3 286.0L160.3 285.9L161.2 285.9L161.7 286.4L162.1 287.1L161.0 287.6L160.4 288.2L159.4 288.2Z" fill="none" stroke="#555" stroke-width="0.4" stroke-linejoin="round"/>
<path d="M160.9 282.3L160.0 282.1L159.4 282.3L158.6 281.9L158.5 281.1L159.0 280.7L159.2 279.9L160.0 280.3L160.5 280.8L160.8 281.4Z" fill="none" stroke="#555" stroke-width="0.4" stroke-linejoin="round"/>
<path d="M144.6 287.2L144.1 287.7L143.4 287.9L142.5 288.3L142.2 287.6L142.0 287.2L142.0 286.6L142.7 286.2L143.4 286.6L144.3 286.7Z" fill="none" stroke="#555" stroke-width="0.4" stroke-linejoin="round"/>
<path d="M146.1 282.8L145.6 283.4L144.7 283.5L143.9 283.3L142.9 283.0L143.3 282.2L143.6 281.6L144.3 281.1L145.2 281.3L145.4 282.1Z" fill="none" stroke="#555" stroke-width="0.4" stroke-linejoin="round"/>
<path d="M152.6 282.1L152.2 281.7L151.7 281.6L151.5 281.0L151.7 280.5L152.2 280.5L152.6 280.1L152.9 280.7L153.0 281.1L152.9 281.6Z" fill="none" stroke="#555" stroke-width="0.4" stroke-linejoin="round"/>
<path d="M143.4 287.3L143.5 286.7L143.9 286.3L144.5 286.1L145.2 285.9L145.3 286.4L145.4 286.9L145.1 287.4L144.5 287.7L144.1 287.4Z" fill="none" stroke="#555" stroke-width="0.4" stroke-linejoin="round"/>
<path d="M154.6 283.0L154.2 283.1L153.8 282.9L153.9 282.4L154.0 282.0L154.3 281.7L154.7 281.8L154.9 282.2L155.3 282.5L155.0 282.9Z" fill="none" stroke="#555" stroke-width="0.4" stroke-linejoin="round"/>
<path d="M147.8 282.5L147.4 282.4L147.4 281.9L147.8 281.6L148.0 281.2L148.4 281.2L148.5 281.6L148.6 282.0L148.6 282.5L148.1 282.5Z" fill="none" stroke="#555" stroke-width="0.4" stroke-linejoin="round"/>
<path d="M145.8 286.9L145.4 286.8L145.3 286.3L145.5 285.8L145.5 285.2L146.0 285.2L146.2 285.5L146.5 285.8L146.6 286.4L146.1 286.6Z" fill="none" stroke="#555" stroke-width="0.4" stroke-linejoin="round"/>
<path d="M147.3 281.0L147.3 280.4L147.8 279.7L148.7 279.3L149.3 279.9L150.2 280.1L150.0 280.9L149.4 281.5L148.5 281.6L147.4 281.9Z" fill="none" stroke="#555" stroke-width="0.4" stroke-linejoin="round"/>
<path d="M154.7 283.4L154.9 282.6L155.2 282.1L155.7 281.7L156.4 281.4L156.5 282.3L156.9 282.7L156.7 283.4L156.1 283.7L155.5 283.3Z" fill="none" stroke="#555" stroke-width="0.4" stroke-linejoin="round"/>
<path d="M149.0 285.2L148.6 284.9L148.9 284.4L149.2 284.2L149.6 283.8L150.0 283.9L150.0 284.4L150.0 284.8L149.7 285.3L149.3 285.2Z" fill="none" stroke="#555" stroke-width="0.4" stroke-linejoin="round"/>
<path d="M154.7 281.8L154.3 281.4L154.2 280.6L154.3 279.6L155.0 279.4L155.6 279.0L156.1 279.5L156.2 280.3L155.8 281.0L155.4 282.0Z" fill="none" stroke="#555" stroke-width="0.4" stroke-linejoin="round"/>
<path d="M147.3 288.1L146.7 287.9L146.2 287.5L146.1 286.8L146.4 286.3L146.9 285.9L147.5 286.0L147.9 286.5L148.0 287.2L147.8 287.8Z" fill="none" stroke="#555" stroke-width="0.4" stroke-linejoin="round"/>
<path d="M145.9 280.6l-0.8 0.7M146.7 280.9l0.0 0.5M156.1 282.4l0.7 0.2M149.0 280.5l-0.2 0.4M149.7 276.2l-0.0 0.4M144.2 280.4l-0.5 0.1M165.5 274.0l-0.7 0.8M157.9 287.1l0.0 1.2M154.6 279.7l-0.9 0.7M157.0 281.4l-0.4 0.4M155.5 279.3l-0.4 0.3M135.3 280.4l0.5 0.4M144.9 280.4l0.5 0.1M159.7 285.5l-0.6 0.9M157.0 284.3l0.8 0.3M146.7 278.7l-0.8 0.3" stroke="#777" stroke-width="0.4" fill="none" stroke-linecap="round"/>
</g>
<rect x="61.2" y="327.1" width="49.39999999999999" height="41.5" fill="#fff" stroke="#8a8a8a" stroke-width="0.8"/>
<line x1="75.4" y1="327.1" x2="75.4" y2="368.6" stroke="#8a8a8a" stroke-width="0.75"/>
<line x1="61.2" y1="355.3" x2="110.6" y2="355.3" stroke="#8a8a8a" stroke-width="0.75"/>
<text x="61.8" y="373.60" font-size="4.8" text-anchor="middle" fill="#000" stroke="#000" stroke-width="0.3">10</text>
<text x="64.8" y="371.80" font-size="3.5" text-anchor="start" fill="#000" stroke="#000" stroke-width="0.3">0</text>
<text transform="translate(59.2 369.0) rotate(-90) scale(0.72 1.04)" font-size="5.3" text-anchor="middle" fill="#000" stroke="#000" stroke-width="0.3">10</text>
<text transform="translate(57.2 366.2) rotate(-90) scale(0.95 1.04)" font-size="3.6" text-anchor="start" fill="#000" stroke="#000" stroke-width="0.3">0</text>
<text x="74.2" y="373.60" font-size="4.8" text-anchor="middle" fill="#000" stroke="#000" stroke-width="0.3">10</text>
<text x="77.2" y="371.80" font-size="3.5" text-anchor="start" fill="#000" stroke="#000" stroke-width="0.3">1</text>
<text transform="translate(59.2 358.2) rotate(-90) scale(0.72 1.04)" font-size="5.3" text-anchor="middle" fill="#000" stroke="#000" stroke-width="0.3">10</text>
<text transform="translate(57.2 355.5) rotate(-90) scale(0.95 1.04)" font-size="3.6" text-anchor="start" fill="#000" stroke="#000" stroke-width="0.3">1</text>
<text x="86.5" y="373.60" font-size="4.8" text-anchor="middle" fill="#000" stroke="#000" stroke-width="0.3">10</text>
<text x="89.5" y="371.80" font-size="3.5" text-anchor="start" fill="#000" stroke="#000" stroke-width="0.3">2</text>
<text transform="translate(59.2 347.4) rotate(-90) scale(0.72 1.04)" font-size="5.3" text-anchor="middle" fill="#000" stroke="#000" stroke-width="0.3">10</text>
<text transform="translate(57.2 344.7) rotate(-90) scale(0.95 1.04)" font-size="3.6" text-anchor="start" fill="#000" stroke="#000" stroke-width="0.3">2</text>
<text x="98.8" y="373.60" font-size="4.8" text-anchor="middle" fill="#000" stroke="#000" stroke-width="0.3">10</text>
<text x="101.8" y="371.80" font-size="3.5" text-anchor="start" fill="#000" stroke="#000" stroke-width="0.3">3</text>
<text transform="translate(59.2 336.6) rotate(-90) scale(0.72 1.04)" font-size="5.3" text-anchor="middle" fill="#000" stroke="#000" stroke-width="0.3">10</text>
<text transform="translate(57.2 333.9) rotate(-90) scale(0.95 1.04)" font-size="3.6" text-anchor="start" fill="#000" stroke="#000" stroke-width="0.3">3</text>
<text x="111.2" y="373.60" font-size="4.8" text-anchor="middle" fill="#000" stroke="#000" stroke-width="0.3">10</text>
<text x="114.2" y="371.80" font-size="3.5" text-anchor="start" fill="#000" stroke="#000" stroke-width="0.3">4</text>
<text transform="translate(59.2 325.8) rotate(-90) scale(0.72 1.04)" font-size="5.3" text-anchor="middle" fill="#000" stroke="#000" stroke-width="0.3">10</text>
<text transform="translate(57.2 323.1) rotate(-90) scale(0.95 1.04)" font-size="3.6" text-anchor="start" fill="#000" stroke="#000" stroke-width="0.3">4</text>
<clipPath id="c3"><rect x="61.400000000000006" y="327.1" width="49.19999999999999" height="41.4"/></clipPath>
<g clip-path="url(#c3)">
<path d="M69.3 361.0L69.3 361.6L69.0 362.2L68.6 362.7L68.2 363.2L67.6 363.6L66.9 363.8L66.1 363.9L65.4 363.6L65.0 363.1L64.6 362.6L64.0 362.2L63.6 361.7L63.5 361.0L63.7 360.3L63.8 359.7L64.3 359.2L64.9 358.8L65.5 358.5L66.2 358.4L66.8 358.5L67.5 358.6L68.2 358.6L68.9 359.0L69.1 359.7L69.2 360.4Z" fill="none" stroke="#333" stroke-width="0.6" stroke-linejoin="round"/>
<path d="M71.4 358.7L71.5 359.7L72.0 360.8L72.2 362.1L71.2 363.1L69.9 363.5L69.0 364.0L68.2 364.8L67.1 365.1L65.9 365.1L64.7 365.0L63.7 364.3L63.1 363.3L62.5 362.4L62.1 361.3L62.5 360.2L63.2 359.3L63.3 358.2L63.4 356.9L64.4 356.1L65.7 355.9L66.9 355.8L68.0 356.0L69.0 356.6L69.9 357.1L70.9 357.7Z" fill="none" stroke="#444" stroke-width="0.5" stroke-linejoin="round"/>
<path d="M74.6 354.8L75.7 356.1L75.5 357.9L75.5 359.5L76.1 361.5L75.3 363.4L73.1 364.1L71.1 364.3L69.7 365.1L68.1 365.7L66.4 365.8L64.5 365.8L62.8 365.1L62.1 363.4L61.7 361.8L60.8 360.2L61.0 358.5L62.6 357.1L63.7 355.9L63.9 354.0L65.0 352.1L67.0 351.5L68.9 351.6L70.7 351.9L72.0 353.0L73.1 354.1Z" fill="none" stroke="#444" stroke-width="0.5" stroke-linejoin="round"/>
<path d="M77.5 352.4L77.8 354.1L78.0 355.8L77.9 357.6L78.2 359.6L78.1 362.2L75.9 363.8L73.1 364.0L71.1 364.7L69.0 366.0L67.0 365.6L65.6 364.2L63.9 363.7L61.7 363.2L60.4 361.7L60.0 359.6L60.3 357.4L62.2 355.5L64.4 354.3L65.5 352.7L66.5 350.3L68.7 349.2L70.9 349.5L73.1 349.2L75.7 348.8L77.2 350.2Z" fill="none" stroke="#666" stroke-width="0.45" stroke-linejoin="round"/>
<path d="M77.0 352.5L77.0 353.2L76.3 353.9L75.2 354.5L74.8 355.1L74.8 356.2L73.7 357.0L72.3 357.0L71.1 356.9L69.9 357.1L68.9 356.9L68.6 356.3L68.1 355.8L67.5 355.4L67.3 354.8L67.1 354.1L66.9 353.2L68.0 352.4L69.8 352.3L70.9 352.1L71.8 351.3L73.0 350.9L74.0 351.1L75.0 351.1L76.3 351.2L76.9 351.7Z" fill="none" stroke="#333" stroke-width="0.55" stroke-linejoin="round"/>
<path d="M76.5 353.4L77.2 353.8L77.6 354.6L77.7 355.5L77.0 356.5L75.9 357.2L75.5 357.9L75.3 359.0L74.6 359.8L73.6 359.8L72.7 360.2L71.7 360.7L70.9 360.3L70.7 359.4L70.5 358.7L70.4 358.0L70.5 357.2L70.1 356.5L69.8 355.4L70.5 354.5L71.8 354.1L72.6 353.7L73.4 353.0L74.3 352.9L74.8 353.4L75.5 353.5Z" fill="none" stroke="#444" stroke-width="0.5" stroke-linejoin="round"/>
<path d="M78.8 352.0L79.0 352.4L79.4 352.9L79.1 353.5L78.6 353.9L78.4 354.6L78.0 355.4L77.1 355.5L76.4 354.9L75.8 354.8L75.2 355.0L74.5 354.9L73.9 354.7L73.3 354.4L73.2 353.7L73.7 353.1L73.9 352.5L74.0 351.9L74.9 351.6L75.7 351.7L76.1 351.2L76.7 350.3L77.6 350.1L78.2 350.5L78.6 350.9L78.9 351.4Z" fill="none" stroke="#555" stroke-width="0.5" stroke-linejoin="round"/>
<path d="M74.9 354.6l0.5 0.0M64.1 360.9l0.2 1.1M65.8 361.7l0.5 0.0M68.5 350.2l0.3 0.7M73.3 360.4l1.1 0.8M71.0 350.8l-0.8 0.2M77.4 356.4l0.3 0.4M74.5 359.8l0.6 1.2M76.4 353.2l-0.5 0.2M72.2 356.5l0.4 0.4M73.8 358.6l-0.7 1.4M64.7 354.5l0.3 0.5M70.8 363.6l0.1 0.8M76.7 362.6l-1.3 0.7M66.6 359.6l0.3 1.5M72.0 353.6l-0.8 1.6M66.0 363.6l-1.4 0.3M67.9 366.5l0.4 0.7M75.5 362.0l-1.1 0.1M79.0 357.2l-0.8 0.9M67.5 352.5l-0.2 0.6M61.9 362.5l-0.6 1.3M73.4 355.6l-1.3 0.8M63.1 363.9l0.7 0.5M66.4 353.9l-0.6 0.8M71.6 365.9l-0.2 0.5M69.7 357.2l-0.7 0.6M75.8 359.3l1.3 1.0M65.2 364.0l-0.5 0.0M71.3 358.3l-0.6 0.4M71.4 355.3l-0.7 0.4M65.5 362.7l0.0 0.6M74.4 349.7l-1.1 0.9M77.5 361.2l0.4 0.9M71.5 356.0l-0.8 0.3M70.7 359.2l-1.1 1.0M74.6 355.3l0.4 0.6M76.6 351.6l0.3 1.5" stroke="#444" stroke-width="0.45" fill="none" stroke-linecap="round"/>
<path d="M76.9 355.3l0.2 1.7M75.2 355.9l0.8 1.2M78.2 355.5l0.8 0.4M75.6 359.2l0.9 0.5M74.9 363.8l-0.5 0.5M78.8 355.0l0.6 1.7M78.0 361.3l0.2 0.8M77.2 355.1l0.8 0.6M74.2 358.0l-1.1 0.9M76.5 360.3l0.1 0.8M77.0 358.0l-1.2 1.2M76.2 359.7l-0.8 0.8M75.1 361.2l-1.4 0.6M77.5 362.5l-0.7 1.2M76.3 357.1l-0.3 0.7M76.1 361.8l-0.8 1.1" stroke="#333" stroke-width="0.5" fill="none" stroke-linecap="round"/>
<path d="M81.0 353.8l-0.4 1.0M92.7 348.2l-0.7 1.3M81.5 351.9l1.2 0.1M81.2 349.0l-0.0 0.6M87.3 348.9l-0.1 1.3M93.7 347.0l-0.8 0.1M90.1 350.8l1.6 0.7M85.9 352.4l0.2 0.5M84.2 352.7l0.4 0.8M81.7 348.3l-0.1 0.8M93.8 348.5l1.4 0.6M93.7 345.8l-0.2 0.8M96.9 348.3l-1.3 0.8M86.8 353.2l1.5 0.6M85.5 350.6l0.3 0.8M86.4 351.3l-0.6 0.7M81.8 355.0l0.3 1.3M89.3 352.4l-0.5 0.3M97.4 345.4l1.4 0.7M91.2 349.2l-1.3 0.2M83.2 353.5l1.1 1.0M86.5 355.5l-0.6 0.4M94.6 344.5l-0.8 1.4M94.9 346.6l-0.7 1.0M90.4 349.7l-0.1 0.8M83.3 354.8l1.1 0.2M78.4 354.0l-0.2 1.6M78.1 353.2l-0.3 1.3M94.4 348.7l-0.6 0.1M90.8 348.8l-0.5 1.3M95.4 351.3l-0.0 1.1M99.1 347.3l-0.4 0.9M94.8 348.7l-0.1 1.5M80.2 354.0l-0.3 1.6M84.2 350.6l-0.0 0.9M90.3 349.9l-0.7 0.6M83.4 354.7l-0.6 1.4M77.3 350.7l-0.1 0.6M84.6 352.4l-1.3 0.3M92.3 344.7l-0.4 1.2M90.1 346.7l-0.4 0.7M89.2 349.8l0.7 0.2M78.3 350.5l-0.5 0.9M95.5 344.9l0.6 0.6M85.6 353.1l-0.7 1.5M77.8 354.4l1.4 0.6M91.1 348.7l1.0 0.0M93.9 347.4l0.1 1.0M78.6 353.1l0.5 0.2M76.8 354.2l-0.6 0.1M96.3 347.2l-0.5 0.6M93.3 348.8l-1.1 0.9M95.7 346.2l-0.6 1.3M88.2 350.2l-1.4 0.2M79.4 355.4l-0.5 0.3" stroke="#444" stroke-width="0.5" fill="none" stroke-linecap="round"/>
<path d="M73.5 363.6l0.8 0.5M77.7 357.5l0.3 0.7M76.5 363.1l0.8 0.4M74.7 362.8l-0.3 0.6M75.3 364.1l-0.9 0.1M79.6 359.6l1.0 0.2M82.9 364.4l0.4 0.7M89.5 364.5l-0.2 0.6M76.3 365.0l0.3 0.8M80.4 365.1l-0.5 0.3M66.0 359.4l0.2 0.7M85.6 365.0l0.9 0.1M85.5 364.8l-0.1 0.5M86.4 364.3l-0.5 0.8" stroke="#999" stroke-width="0.4" fill="none" stroke-linecap="round"/>
<path d="M61.7 346L61.7 368.6" stroke="#111" stroke-width="0.9" stroke-dasharray="1.6 1.1"/>
</g>
<rect x="128.3" y="327.0" width="50.599999999999994" height="41.5" fill="#fff" stroke="#8a8a8a" stroke-width="0.8"/>
<line x1="143.4" y1="327.0" x2="143.4" y2="368.5" stroke="#8a8a8a" stroke-width="0.75"/>
<line x1="128.3" y1="355.3" x2="178.9" y2="355.3" stroke="#8a8a8a" stroke-width="0.75"/>
<text x="128.9" y="373.50" font-size="4.8" text-anchor="middle" fill="#000" stroke="#000" stroke-width="0.3">10</text>
<text x="131.9" y="371.70" font-size="3.5" text-anchor="start" fill="#000" stroke="#000" stroke-width="0.3">0</text>
<text transform="translate(126.30000000000001 368.9) rotate(-90) scale(0.72 1.04)" font-size="5.3" text-anchor="middle" fill="#000" stroke="#000" stroke-width="0.3">10</text>
<text transform="translate(124.30000000000001 366.1) rotate(-90) scale(0.95 1.04)" font-size="3.6" text-anchor="start" fill="#000" stroke="#000" stroke-width="0.3">0</text>
<text x="141.6" y="373.50" font-size="4.8" text-anchor="middle" fill="#000" stroke="#000" stroke-width="0.3">10</text>
<text x="144.6" y="371.70" font-size="3.5" text-anchor="start" fill="#000" stroke="#000" stroke-width="0.3">1</text>
<text transform="translate(126.30000000000001 358.1) rotate(-90) scale(0.72 1.04)" font-size="5.3" text-anchor="middle" fill="#000" stroke="#000" stroke-width="0.3">10</text>
<text transform="translate(124.30000000000001 355.4) rotate(-90) scale(0.95 1.04)" font-size="3.6" text-anchor="start" fill="#000" stroke="#000" stroke-width="0.3">1</text>
<text x="154.2" y="373.50" font-size="4.8" text-anchor="middle" fill="#000" stroke="#000" stroke-width="0.3">10</text>
<text x="157.2" y="371.70" font-size="3.5" text-anchor="start" fill="#000" stroke="#000" stroke-width="0.3">2</text>
<text transform="translate(126.30000000000001 347.3) rotate(-90) scale(0.72 1.04)" font-size="5.3" text-anchor="middle" fill="#000" stroke="#000" stroke-width="0.3">10</text>
<text transform="translate(124.30000000000001 344.6) rotate(-90) scale(0.95 1.04)" font-size="3.6" text-anchor="start" fill="#000" stroke="#000" stroke-width="0.3">2</text>
<text x="166.8" y="373.50" font-size="4.8" text-anchor="middle" fill="#000" stroke="#000" stroke-width="0.3">10</text>
<text x="169.8" y="371.70" font-size="3.5" text-anchor="start" fill="#000" stroke="#000" stroke-width="0.3">3</text>
<text transform="translate(126.30000000000001 336.5) rotate(-90) scale(0.72 1.04)" font-size="5.3" text-anchor="middle" fill="#000" stroke="#000" stroke-width="0.3">10</text>
<text transform="translate(124.30000000000001 333.8) rotate(-90) scale(0.95 1.04)" font-size="3.6" text-anchor="start" fill="#000" stroke="#000" stroke-width="0.3">3</text>
<text x="179.5" y="373.50" font-size="4.8" text-anchor="middle" fill="#000" stroke="#000" stroke-width="0.3">10</text>
<text x="182.5" y="371.70" font-size="3.5" text-anchor="start" fill="#000" stroke="#000" stroke-width="0.3">4</text>
<text transform="translate(126.30000000000001 325.7) rotate(-90) scale(0.72 1.04)" font-size="5.3" text-anchor="middle" fill="#000" stroke="#000" stroke-width="0.3">10</text>
<text transform="translate(124.30000000000001 322.9) rotate(-90) scale(0.95 1.04)" font-size="3.6" text-anchor="start" fill="#000" stroke="#000" stroke-width="0.3">4</text>
<clipPath id="c4"><rect x="128.5" y="327.0" width="50.39999999999999" height="41.4"/></clipPath>
<g clip-path="url(#c4)">
<path d="M148.4 346.1l-0.3 1.7M166.0 349.9l-0.5 1.4M152.0 349.2l1.1 1.2M161.7 355.5l1.6 0.5M161.2 349.8l-0.5 1.8M164.6 357.0l0.1 1.4M143.7 348.8l1.3 0.8M148.9 358.1l0.4 1.2M142.5 345.1l-1.1 0.0M161.6 347.9l-0.3 1.0M153.6 344.5l2.0 0.2M164.0 356.2l-0.2 0.9M161.4 354.6l-1.6 0.3M162.6 368.1l0.4 0.4M144.0 348.5l0.6 0.1M154.7 365.8l0.3 1.9M165.3 345.6l-0.3 1.0M145.7 358.1l-0.8 1.7M158.1 353.8l0.1 0.7M167.0 368.8l0.4 0.4M145.7 352.8l-1.8 0.6M163.1 345.2l-1.2 1.0M157.4 368.6l0.7 0.1M160.6 367.5l-0.5 0.8M155.7 362.9l0.9 0.3M145.7 347.1l0.0 0.8M145.2 347.6l-0.3 0.4M159.5 348.9l1.9 0.2M164.0 366.2l1.1 0.5M163.3 359.7l0.2 1.0M162.7 355.9l-0.3 0.7M144.6 345.4l-0.8 1.0M146.0 354.3l0.8 0.4M163.2 352.4l1.1 0.6M158.0 349.3l0.1 0.9M145.7 349.0l0.8 1.8M140.9 351.2l-0.6 0.2M159.8 351.3l-0.5 0.0M162.2 352.5l0.5 0.2M163.0 357.2l1.0 0.6M165.4 349.5l-0.2 0.7M159.3 348.9l0.6 0.2M156.3 356.4l0.5 0.6M156.4 361.7l-1.1 0.8M144.1 345.6l-0.7 0.8M159.6 345.4l-0.8 0.6M163.3 365.6l0.0 0.5M165.3 355.9l-0.8 0.4M149.0 348.1l0.5 1.3M151.4 356.9l1.5 0.6M162.5 365.6l0.8 1.3M149.4 362.8l1.8 0.3M166.6 356.4l-0.1 1.3M154.1 344.5l-0.8 0.1M143.5 346.6l1.2 1.2M159.0 348.9l1.4 0.1M155.3 357.1l-0.4 0.5M164.1 361.9l0.7 0.1M152.8 356.5l0.4 0.5M150.2 347.4l-0.5 1.7M142.4 358.3l-0.5 0.5M162.8 367.4l0.4 1.1M163.2 357.1l0.6 1.8M161.3 352.5l0.7 0.7M151.1 368.5l-1.5 1.1M162.5 365.2l1.3 0.2M166.7 367.4l0.8 0.8M157.0 353.1l-0.1 0.6M151.0 356.6l0.7 0.0M167.1 363.4l-1.4 0.3M162.3 366.1l-0.5 0.2M157.2 350.6l-0.5 0.8M154.3 367.1l-0.3 0.8M153.6 354.8l-0.9 0.1M147.2 360.2l1.3 0.5M166.7 356.8l0.8 0.9M154.0 347.7l0.6 0.3M146.8 354.2l0.5 0.7M140.6 357.7l-1.2 0.7M155.1 360.3l1.3 0.9M151.8 357.7l-0.4 1.1M147.3 350.1l1.0 0.8M149.5 358.6l1.0 0.0M163.9 350.0l-0.2 1.2M146.9 363.3l0.5 0.3M164.1 355.0l1.1 0.2M151.2 362.4l0.8 0.3M166.8 362.5l0.9 0.5M148.6 360.9l-0.6 1.7M162.6 356.9l-1.1 1.2M160.8 355.9l-1.2 1.0M165.4 347.2l-0.5 0.2M161.0 358.6l0.0 1.9M155.2 354.4l-1.4 1.1M156.2 353.5l0.2 1.2M159.7 351.3l0.4 1.3M149.5 352.0l-1.4 1.1M153.0 355.1l0.8 0.5M142.3 358.4l-0.2 0.6M165.6 352.1l-1.5 0.8M166.8 349.1l0.4 1.8M154.9 356.4l-1.6 0.4M154.2 369.0l-0.1 1.3M158.6 353.7l0.6 1.3M158.3 357.1l1.0 0.3M150.0 358.0l-0.4 1.8M166.9 356.2l0.3 1.4M153.9 364.4l0.8 0.5M167.4 364.7l-0.0 0.7M164.8 361.2l-1.7 1.1M164.6 354.5l0.8 0.4M153.3 356.6l0.6 0.4M156.9 359.1l0.9 1.8M157.1 345.1l0.5 1.6M147.2 361.3l1.0 0.0M163.3 358.7l-0.4 0.7M152.9 357.8l1.0 1.1M153.9 368.9l-0.3 1.1M141.6 347.9l-0.5 0.5M153.7 364.6l-0.6 1.6M161.1 352.1l-0.6 0.8M143.1 350.7l1.8 0.6M155.5 352.7l0.2 1.1M155.5 368.0l0.3 1.4M145.5 345.1l-1.7 0.4M162.5 351.6l-0.6 1.8M152.9 367.7l0.8 0.7M159.6 349.5l1.0 1.5M152.5 363.8l0.5 0.5M148.8 348.7l-0.9 0.1M154.8 346.9l-0.1 1.1M150.1 345.6l1.6 0.7M148.5 350.1l0.8 0.5M145.1 344.9l-0.5 0.9M140.8 350.7l-0.6 0.3M151.3 364.9l-0.6 0.4M148.6 362.1l0.7 1.8M153.1 349.7l0.1 0.7M159.2 350.5l-1.3 0.4M149.0 350.2l-0.3 0.8M164.2 347.1l-0.1 1.3M146.1 363.3l0.5 1.4M155.0 351.8l0.2 0.6M147.6 360.6l1.3 0.5M148.8 356.5l0.4 0.5M147.3 349.7l1.5 0.6M146.5 354.1l-1.6 0.5M164.5 365.5l0.8 0.4M157.9 352.8l0.4 1.4M159.0 350.2l-0.9 0.5M156.9 348.5l1.7 0.7M160.0 361.8l0.6 0.1M142.9 349.0l0.6 0.9M139.2 351.8l-0.3 0.7M163.2 358.3l-0.6 0.7M151.0 361.1l0.2 0.4M163.0 363.4l0.4 0.4M163.6 359.2l0.9 0.1M160.5 346.2l-0.6 0.9M160.4 364.7l0.4 0.5M166.4 354.6l-1.5 0.3M160.2 364.7l-0.5 1.1M150.9 356.8l-0.7 0.2M160.9 345.1l-1.0 1.4M145.8 357.7l-1.4 0.1M154.3 350.2l1.0 0.2M150.3 349.0l0.4 0.6M159.2 360.8l0.6 0.6M153.5 355.1l-1.0 0.2M142.3 358.1l0.9 1.5M154.4 363.0l1.3 0.8M156.0 355.5l-1.3 1.2M141.4 351.2l0.3 0.7M139.8 351.0l1.3 0.9M151.4 346.8l0.6 1.0M148.9 348.2l0.5 0.1M167.4 358.1l1.2 0.4M151.0 348.7l-0.1 0.5M165.6 360.1l-0.7 1.8M157.6 350.3l0.5 0.5M163.2 351.4l1.2 0.8M163.4 367.2l1.4 0.8M162.9 362.6l0.4 0.7M162.8 352.0l0.5 1.2M149.1 364.8l0.4 0.4M155.0 359.7l-1.3 0.8M165.2 367.6l0.0 1.2M142.7 351.5l-0.2 0.6M158.6 348.1l0.3 1.9M151.2 348.8l-0.3 0.4M163.2 365.4l-0.9 0.7M146.5 360.5l-0.1 1.1M148.2 355.0l-0.9 1.5M165.1 348.1l0.7 0.9M154.9 352.7l0.5 0.4M147.7 355.5l-1.9 0.2M164.0 368.4l-1.4 0.2M162.3 345.5l-0.7 1.2M146.9 358.3l-1.2 0.2M157.4 351.5l0.9 1.6M158.4 355.2l1.4 0.4M149.2 358.5l0.3 1.3M154.9 353.9l0.7 0.3M164.7 357.7l1.7 0.6M145.6 346.4l-0.1 0.9M152.7 357.9l1.0 0.9M141.4 356.8l-0.2 0.6M150.2 345.8l0.3 1.8M154.5 361.9l-0.5 0.5M149.8 348.3l-1.3 0.2M161.2 347.4l-0.4 0.4M145.1 353.3l1.4 0.1M144.4 351.5l-0.7 0.9M164.7 359.5l-1.2 0.5M165.5 365.8l1.4 0.8M148.2 363.1l-0.9 1.5M141.7 353.3l-1.3 1.4M159.7 345.1l-0.2 0.6M154.5 364.1l1.8 0.7M158.3 350.4l1.0 0.7M163.1 358.5l0.5 0.2M143.6 357.9l0.9 1.2M149.4 347.6l-1.2 0.5M158.7 364.2l-0.5 0.1M148.3 347.8l-0.0 1.8M162.0 344.9l1.5 0.9M158.4 353.8l0.1 0.7M163.4 353.8l-1.3 0.6M140.3 352.2l1.4 1.2M155.7 345.1l0.9 0.5M152.0 358.4l0.4 1.0M148.0 344.5l0.3 2.0M158.1 350.8l0.8 0.9M145.9 358.2l-0.2 1.9M154.8 363.3l-1.5 0.6M157.0 359.9l0.4 0.8M161.9 365.8l-1.5 0.3M147.1 363.1l-0.9 0.9M157.1 352.8l-0.2 1.1M139.8 352.4l1.0 1.7M152.4 353.2l0.6 0.6M148.5 347.4l1.8 0.0M151.6 355.1l-0.2 0.9M143.1 345.7l0.6 0.8M159.8 357.8l-1.0 0.2M165.6 358.6l0.7 0.2M155.4 368.7l0.7 1.5M150.8 365.7l1.2 0.3M165.0 350.9l0.4 0.4M142.9 350.7l-0.5 0.7M150.0 349.0l-0.6 1.7M157.4 348.9l-1.3 1.4M156.0 346.0l-1.5 1.0M148.2 347.4l1.1 0.7M164.3 360.0l-0.8 0.2M147.8 362.7l-0.5 1.0M158.4 352.4l1.1 0.2M148.0 356.4l-0.3 0.8M165.8 358.1l-0.6 0.0M156.4 362.1l0.3 0.6M142.7 347.6l-0.5 0.4M162.4 354.6l-0.2 1.4M154.6 360.4l-0.3 0.9M160.2 350.4l-1.0 1.3M161.3 351.7l-1.5 1.3M151.6 351.0l-0.1 1.9M152.3 360.4l-0.8 0.7M160.7 346.2l0.7 0.1M139.8 356.5l-0.1 0.8M166.2 353.1l0.7 0.3M160.1 367.0l0.5 0.3M161.3 350.1l-1.2 0.1M157.1 352.6l-1.0 0.7M150.1 365.6l1.3 0.3M150.3 367.0l-1.4 0.2M144.7 350.3l0.8 0.8M144.9 349.1l-1.1 1.0M144.5 358.2l1.6 0.8M164.1 350.7l-1.2 1.2M146.5 352.3l0.1 1.8M155.9 355.3l-0.4 1.8M148.8 363.5l-0.7 0.3M163.9 368.9l0.3 0.4M158.5 346.3l0.9 1.6M159.5 366.0l-0.5 0.0M158.7 344.9l-0.0 0.8M150.9 346.6l2.0 0.1M141.6 356.2l1.0 0.5M143.4 361.1l1.4 0.7M153.0 346.8l0.6 1.1M165.6 352.7l1.5 1.2M164.5 362.3l0.5 0.6M145.9 345.7l1.3 0.2M150.2 357.9l0.2 0.5M158.6 360.3l-0.2 1.3M158.7 368.6l-1.5 0.6M150.0 352.0l0.5 1.9M149.6 353.6l0.2 0.7M156.2 367.2l1.0 1.0M149.3 350.0l0.5 0.4M163.3 363.6l-0.6 0.2M158.8 352.1l-0.6 1.2M163.6 356.8l-0.6 1.9M145.0 359.7l-0.7 0.8M159.4 353.8l-0.1 1.4M158.3 352.1l-0.5 1.2M144.7 359.3l1.3 1.4M152.2 362.0l-0.1 1.2M144.6 347.6l-1.3 0.3M153.7 357.2l-0.7 0.5M151.8 360.0l-1.6 0.9M164.0 345.1l0.6 1.6M162.5 347.1l0.8 0.4M141.1 352.9l-1.0 0.7M151.6 346.2l0.6 1.9M158.9 355.2l0.1 1.7M160.8 347.7l-0.6 0.9M153.6 349.9l0.4 0.9M144.0 358.3l0.8 0.1M159.5 350.9l0.5 0.7M163.0 346.3l-0.7 1.6M144.1 354.6l-1.1 0.9M149.1 345.1l0.2 1.0M159.4 351.4l0.4 1.4M162.3 352.8l0.5 1.3M165.7 348.8l-1.6 0.1M149.2 360.6l0.3 0.5M160.7 353.5l-0.1 1.2M165.0 362.9l1.4 0.1M151.9 355.6l-1.0 0.5M152.2 366.3l0.2 1.2M153.4 364.6l-0.8 1.4M150.1 345.0l-0.7 1.1M161.1 363.2l0.8 0.3M160.6 358.1l1.5 0.3M159.3 356.1l1.5 0.3M150.5 358.6l-1.7 0.0M164.2 347.6l0.6 1.1M146.2 350.6l0.5 0.7M163.8 357.9l-0.0 1.1" stroke="#303030" stroke-width="0.5" fill="none" stroke-linecap="round"/>
<path d="M141.4 353.6L142.1 352.5L142.2 351.7L143.0 351.1L144.1 351.3L144.2 352.2L145.1 353.0L144.3 353.7L143.4 354.0L142.5 353.9Z" fill="none" stroke="#444" stroke-width="0.4" stroke-linejoin="round"/>
<path d="M154.6 355.5L154.2 354.9L154.1 354.3L153.9 353.5L154.6 353.3L155.2 353.2L155.7 353.4L156.0 354.1L155.4 354.6L155.2 355.4Z" fill="none" stroke="#444" stroke-width="0.4" stroke-linejoin="round"/>
<path d="M164.0 359.1L163.7 358.8L163.6 358.4L163.5 357.9L163.8 357.6L164.1 357.6L164.5 357.6L164.7 358.0L164.4 358.5L164.3 358.9Z" fill="none" stroke="#444" stroke-width="0.4" stroke-linejoin="round"/>
<path d="M147.8 364.0L147.8 363.6L147.6 362.9L148.3 362.7L148.8 362.8L149.4 362.9L149.7 363.5L149.1 363.9L148.8 364.4L148.1 364.6Z" fill="none" stroke="#444" stroke-width="0.4" stroke-linejoin="round"/>
<path d="M152.4 366.0L152.0 365.8L152.2 365.3L152.2 364.8L152.6 364.6L153.0 364.6L153.2 365.0L153.4 365.3L153.0 365.7L152.7 366.0Z" fill="none" stroke="#444" stroke-width="0.4" stroke-linejoin="round"/>
<path d="M155.2 350.8L154.8 350.1L155.1 349.2L155.9 348.5L156.8 348.9L157.8 348.8L157.8 349.8L157.4 350.7L156.6 351.2L155.6 351.7Z" fill="none" stroke="#444" stroke-width="0.4" stroke-linejoin="round"/>
<path d="M147.2 351.1L147.9 350.4L148.4 349.9L149.3 349.5L150.2 349.7L150.2 350.3L150.6 350.9L149.8 351.5L148.9 351.6L148.1 351.5Z" fill="none" stroke="#444" stroke-width="0.4" stroke-linejoin="round"/>
<path d="M161.5 367.6L161.1 368.1L160.5 367.7L159.9 367.3L159.8 366.7L160.0 366.0L160.6 366.1L161.3 365.9L161.7 366.6L161.9 367.2Z" fill="none" stroke="#444" stroke-width="0.4" stroke-linejoin="round"/>
<path d="M143.9 362.0L143.4 362.1L143.1 361.7L142.6 361.6L142.6 361.1L143.0 360.8L143.3 360.6L143.9 360.6L143.9 361.1L144.0 361.5Z" fill="none" stroke="#444" stroke-width="0.4" stroke-linejoin="round"/>
<path d="M154.0 350.2L153.9 349.4L154.7 348.8L155.3 347.9L156.2 348.2L156.9 348.6L156.8 349.4L156.6 350.3L155.5 350.4L154.6 350.7Z" fill="none" stroke="#444" stroke-width="0.4" stroke-linejoin="round"/>
<path d="M152.3 347.4L151.7 347.6L151.0 347.7L150.6 347.2L150.4 346.6L150.6 346.1L151.0 345.6L151.7 345.9L152.3 346.2L152.4 346.9Z" fill="none" stroke="#444" stroke-width="0.4" stroke-linejoin="round"/>
<path d="M158.2 356.2L158.2 355.6L158.8 355.0L159.4 354.4L160.2 354.4L160.6 354.8L160.7 355.3L160.4 356.0L159.5 356.3L158.8 356.5Z" fill="none" stroke="#444" stroke-width="0.4" stroke-linejoin="round"/>
<path d="M163.8 358.3L163.8 357.8L163.8 357.3L164.2 356.7L164.7 356.9L165.2 356.9L165.6 357.3L165.2 357.8L164.8 358.1L164.2 358.7Z" fill="none" stroke="#444" stroke-width="0.4" stroke-linejoin="round"/>
<path d="M155.1 365.4L154.4 365.8L153.7 366.1L153.0 365.8L152.3 365.4L152.6 364.7L152.7 364.0L153.5 364.0L154.3 364.1L154.6 364.7Z" fill="none" stroke="#444" stroke-width="0.4" stroke-linejoin="round"/>
<path d="M161.8 352.6L161.3 352.1L161.1 351.2L161.7 350.4L162.1 349.4L162.8 349.5L163.3 349.9L163.2 350.8L163.2 351.9L162.4 352.2Z" fill="none" stroke="#444" stroke-width="0.4" stroke-linejoin="round"/>
<path d="M158.4 347.7L158.0 348.0L157.4 348.1L157.2 347.3L156.8 346.9L156.9 346.3L157.5 346.1L158.0 346.6L158.7 346.7L158.7 347.4Z" fill="none" stroke="#444" stroke-width="0.4" stroke-linejoin="round"/>
<path d="M149.0 348.5L148.4 348.7L148.4 347.8L148.5 347.1L148.8 346.4L149.4 346.1L149.7 346.8L150.0 347.3L149.9 348.1L149.5 348.6Z" fill="none" stroke="#444" stroke-width="0.4" stroke-linejoin="round"/>
<path d="M143.6 357.6L143.2 357.8L142.8 358.1L142.3 357.8L142.0 357.4L142.1 357.0L142.3 356.6L142.8 356.7L143.3 356.8L143.5 357.2Z" fill="none" stroke="#444" stroke-width="0.4" stroke-linejoin="round"/>
<path d="M158.3 350.2L157.8 350.7L157.4 350.2L157.2 349.8L157.1 349.2L157.4 348.7L158.0 349.0L158.5 348.9L158.8 349.4L158.7 349.9Z" fill="none" stroke="#444" stroke-width="0.4" stroke-linejoin="round"/>
<path d="M145.6 349.7L145.1 349.2L144.5 348.6L144.6 347.6L145.0 346.8L145.6 346.6L146.2 346.6L146.4 347.6L146.6 348.6L146.2 349.3Z" fill="none" stroke="#444" stroke-width="0.4" stroke-linejoin="round"/>
<path d="M147.2 358.7L146.3 358.5L145.7 358.8L145.0 358.3L144.9 357.6L145.2 357.3L145.3 356.5L146.1 356.9L146.6 357.4L147.1 357.9Z" fill="none" stroke="#444" stroke-width="0.4" stroke-linejoin="round"/>
<path d="M148.8 365.2L148.8 366.0L148.1 366.3L147.4 366.0L146.7 365.9L146.4 365.1L147.0 364.6L147.5 364.1L148.3 363.9L148.7 364.6Z" fill="none" stroke="#444" stroke-width="0.4" stroke-linejoin="round"/>
<path d="M156.7 361.7L156.1 361.9L155.6 361.8L155.0 361.8L154.7 361.3L155.1 360.8L155.2 360.3L155.8 360.2L156.2 360.6L156.5 361.1Z" fill="none" stroke="#444" stroke-width="0.4" stroke-linejoin="round"/>
<path d="M154.0 354.0L153.5 353.6L153.5 352.6L153.5 351.6L154.2 351.1L154.8 350.9L155.3 351.4L155.6 352.2L155.2 353.1L154.7 353.9Z" fill="none" stroke="#444" stroke-width="0.4" stroke-linejoin="round"/>
<path d="M158.2 347.4L158.1 346.8L158.8 346.7L159.3 346.7L159.9 346.8L160.1 347.3L159.6 347.7L159.4 348.2L158.8 348.2L158.4 347.8Z" fill="none" stroke="#444" stroke-width="0.4" stroke-linejoin="round"/>
<path d="M160.1 353.9L159.9 353.1L161.0 352.8L161.7 352.4L162.8 352.4L163.0 353.2L162.6 353.8L162.4 354.7L161.4 354.8L160.7 354.3Z" fill="none" stroke="#444" stroke-width="0.4" stroke-linejoin="round"/>
<path d="M151.1 349.0L151.0 348.3L151.0 347.8L151.2 347.2L151.8 346.9L152.1 347.4L152.7 347.5L152.7 348.1L152.3 348.6L151.8 348.7Z" fill="none" stroke="#444" stroke-width="0.4" stroke-linejoin="round"/>
<path d="M145.9 350.8L145.8 350.1L146.4 349.8L147.0 350.1L147.7 350.2L147.9 350.8L147.5 351.3L147.1 351.7L146.4 352.0L146.0 351.4Z" fill="none" stroke="#444" stroke-width="0.4" stroke-linejoin="round"/>
<path d="M161.5 366.6L161.2 367.3L160.3 367.4L159.6 366.7L159.7 365.9L159.2 364.9L160.2 364.7L161.0 364.9L161.8 365.3L162.4 366.1Z" fill="none" stroke="#444" stroke-width="0.4" stroke-linejoin="round"/>
<path d="M143.4 361.9L143.3 361.5L143.8 361.1L144.5 361.0L144.8 361.4L145.4 361.7L145.1 362.1L144.6 362.4L144.0 362.4L143.2 362.4Z" fill="none" stroke="#444" stroke-width="0.4" stroke-linejoin="round"/>
<path d="M160.7 367.3L160.0 366.5L160.8 365.7L161.6 365.3L162.6 365.2L163.5 365.7L163.1 366.7L163.1 367.6L162.2 368.2L161.2 368.0Z" fill="none" stroke="#444" stroke-width="0.4" stroke-linejoin="round"/>
<path d="M160.3 363.5L160.7 362.8L161.1 362.2L162.2 361.9L162.7 362.6L163.4 363.1L163.4 363.8L162.4 364.2L161.5 364.2L160.4 364.3Z" fill="none" stroke="#444" stroke-width="0.4" stroke-linejoin="round"/>
<path d="M166.1 364.1L165.5 364.2L165.0 364.0L164.4 363.8L164.2 363.2L164.7 362.9L165.0 362.4L165.7 362.3L165.9 362.9L166.0 363.4Z" fill="none" stroke="#444" stroke-width="0.4" stroke-linejoin="round"/>
<path d="M154.1 366.9L153.4 367.6L152.8 366.8L152.7 366.0L152.9 365.2L153.2 364.2L154.1 365.0L154.7 365.2L155.2 366.0L155.0 366.9Z" fill="none" stroke="#444" stroke-width="0.4" stroke-linejoin="round"/>
<path d="M164.1 365.1L163.7 364.8L163.7 364.2L164.3 363.8L164.7 363.0L165.2 363.1L165.3 363.6L165.2 364.2L165.2 365.0L164.6 365.0Z" fill="none" stroke="#444" stroke-width="0.4" stroke-linejoin="round"/>
<path d="M162.8 363.5L162.8 363.9L162.2 363.8L161.8 364.0L161.4 363.8L161.4 363.4L161.7 363.2L161.8 362.7L162.3 363.0L162.6 363.2Z" fill="none" stroke="#444" stroke-width="0.4" stroke-linejoin="round"/>
<path d="M167.5 346L167.5 368.6" stroke="#555" stroke-width="0.6" stroke-dasharray="1.6 1.4"/>
<path d="M136.6 356.4l0.3 0.5M135.1 361.8l-0.2 0.6M133.5 353.8l-0.5 0.6M137.0 361.3l0.9 0.4M133.2 361.5l0.5 0.4M138.7 355.1l0.9 0.8M136.7 362.5l0.3 0.8M138.7 357.1l-0.6 0.0M138.0 352.3l-0.0 0.4M134.1 363.2l0.2 1.1M134.5 354.9l0.9 0.3M138.2 357.2l0.5 1.1M138.4 359.3l0.9 0.2M135.7 363.4l0.4 0.9" stroke="#888" stroke-width="0.4" fill="none" stroke-linecap="round"/>
</g>
<rect x="59.7" y="387.3" width="50.099999999999994" height="41.69999999999999" fill="#fff" stroke="#8a8a8a" stroke-width="0.8"/>
<line x1="74.5" y1="387.3" x2="74.5" y2="429" stroke="#8a8a8a" stroke-width="0.75"/>
<line x1="59.7" y1="416.2" x2="109.8" y2="416.2" stroke="#8a8a8a" stroke-width="0.75"/>
<text x="60.3" y="434.00" font-size="4.8" text-anchor="middle" fill="#000" stroke="#000" stroke-width="0.3">10</text>
<text x="63.3" y="432.20" font-size="3.5" text-anchor="start" fill="#000" stroke="#000" stroke-width="0.3">0</text>
<text transform="translate(57.7 429.2) rotate(-90) scale(0.72 1.04)" font-size="5.3" text-anchor="middle" fill="#000" stroke="#000" stroke-width="0.3">10</text>
<text transform="translate(55.7 426.4) rotate(-90) scale(0.95 1.04)" font-size="3.6" text-anchor="start" fill="#000" stroke="#000" stroke-width="0.3">0</text>
<text x="72.8" y="434.00" font-size="4.8" text-anchor="middle" fill="#000" stroke="#000" stroke-width="0.3">10</text>
<text x="75.8" y="432.20" font-size="3.5" text-anchor="start" fill="#000" stroke="#000" stroke-width="0.3">1</text>
<text transform="translate(57.7 418.4) rotate(-90) scale(0.72 1.04)" font-size="5.3" text-anchor="middle" fill="#000" stroke="#000" stroke-width="0.3">10</text>
<text transform="translate(55.7 415.6) rotate(-90) scale(0.95 1.04)" font-size="3.6" text-anchor="start" fill="#000" stroke="#000" stroke-width="0.3">1</text>
<text x="85.3" y="434.00" font-size="4.8" text-anchor="middle" fill="#000" stroke="#000" stroke-width="0.3">10</text>
<text x="88.3" y="432.20" font-size="3.5" text-anchor="start" fill="#000" stroke="#000" stroke-width="0.3">2</text>
<text transform="translate(57.7 407.6) rotate(-90) scale(0.72 1.04)" font-size="5.3" text-anchor="middle" fill="#000" stroke="#000" stroke-width="0.3">10</text>
<text transform="translate(55.7 404.9) rotate(-90) scale(0.95 1.04)" font-size="3.6" text-anchor="start" fill="#000" stroke="#000" stroke-width="0.3">2</text>
<text x="97.9" y="434.00" font-size="4.8" text-anchor="middle" fill="#000" stroke="#000" stroke-width="0.3">10</text>
<text x="100.9" y="432.20" font-size="3.5" text-anchor="start" fill="#000" stroke="#000" stroke-width="0.3">3</text>
<text transform="translate(57.7 396.8) rotate(-90) scale(0.72 1.04)" font-size="5.3" text-anchor="middle" fill="#000" stroke="#000" stroke-width="0.3">10</text>
<text transform="translate(55.7 394.1) rotate(-90) scale(0.95 1.04)" font-size="3.6" text-anchor="start" fill="#000" stroke="#000" stroke-width="0.3">3</text>
<text x="110.4" y="434.00" font-size="4.8" text-anchor="middle" fill="#000" stroke="#000" stroke-width="0.3">10</text>
<text x="113.4" y="432.20" font-size="3.5" text-anchor="start" fill="#000" stroke="#000" stroke-width="0.3">4</text>
<text transform="translate(57.7 386.0) rotate(-90) scale(0.72 1.04)" font-size="5.3" text-anchor="middle" fill="#000" stroke="#000" stroke-width="0.3">10</text>
<text transform="translate(55.7 383.2) rotate(-90) scale(0.95 1.04)" font-size="3.6" text-anchor="start" fill="#000" stroke="#000" stroke-width="0.3">4</text>
<clipPath id="c5"><rect x="59.900000000000006" y="387.3" width="49.89999999999999" height="41.59999999999999"/></clipPath>
<g clip-path="url(#c5)">
<clipPath id="b5"><path d="M60 418.2L64 416.5L69 413.2L73 411.7L76 411.2L78.3 412.5L79.3 415L78.6 418L79.4 420.5L78 423.5L76 425.5L74 428.8L60 428.8Z"/></clipPath>
<path d="M60 418.2L64 416.5L69 413.2L73 411.7L76 411.2L78.3 412.5L79.3 415L78.6 418L79.4 420.5L78 423.5L76 425.5L74 428.8L60 428.8Z" fill="none" stroke="#2a2a2a" stroke-width="0.65"/>
<path d="M61.8 420L66 417.8L71 414.3L75 413.3L76.5 415L75 418.5L71.5 422L68 425.5L65 427.3L62 427Z" fill="none" stroke="#555" stroke-width="0.5"/>
<path d="M63.5 422L67 419.8L71.5 416.3L73.5 416.5L71 420L67.5 423.5L64.5 425.5Z" fill="none" stroke="#666" stroke-width="0.45"/>
<path d="M78.5 415.0L78.3 416.0L77.6 416.9L76.6 416.5L75.7 416.1L75.3 415.0L75.7 413.9L76.6 413.5L77.5 413.1L78.3 414.0Z" fill="none" stroke="#444" stroke-width="0.5" stroke-linejoin="round"/>
<path d="M78.6 420.5L78.6 421.8L77.8 422.4L76.9 422.3L76.1 421.6L75.6 420.5L76.2 419.4L76.8 418.6L77.8 418.5L78.6 419.3Z" fill="none" stroke="#444" stroke-width="0.5" stroke-linejoin="round"/>
<path d="M77.6 424.0L77.1 424.7L76.6 425.3L75.7 425.5L75.2 424.7L75.0 424.0L75.0 423.1L75.8 422.6L76.5 422.9L77.4 423.1Z" fill="none" stroke="#555" stroke-width="0.45" stroke-linejoin="round"/>
<g clip-path="url(#b5)">
<path d="M76.7 423.3l-0.2 1.0M75.0 427.0l-0.9 1.0M60.7 416.9l1.4 0.6M77.8 413.6l-0.3 1.1M60.9 418.1l-0.8 0.9M65.6 424.7l0.7 0.9M68.4 428.6l-0.6 1.2M73.5 417.8l-1.3 0.1M73.8 416.0l1.0 0.6M76.5 425.3l0.3 0.6M70.3 426.8l1.1 0.6M63.4 416.6l0.8 0.1M67.7 428.4l-0.7 0.1M66.2 428.0l0.7 0.5M68.8 413.0l0.6 0.7M67.7 428.3l0.5 0.5M78.2 419.1l-1.0 0.6M75.6 416.7l1.2 0.6M69.4 421.1l-0.7 1.1M65.5 417.5l-1.0 0.3M65.8 422.3l0.9 1.0M60.8 425.9l-0.2 0.9M78.8 415.8l0.4 0.4M71.0 424.6l-0.5 0.8M76.2 413.0l0.7 1.0M79.3 422.4l-0.8 1.1M67.9 427.9l-0.6 0.6M67.9 425.5l0.3 0.6M77.4 420.6l-0.1 1.2M78.0 413.4l0.3 0.5M68.3 420.0l-1.1 0.6M71.6 418.3l-0.2 0.8M76.9 425.2l-0.6 0.3M73.4 424.6l-0.0 1.5M78.0 424.4l-1.0 0.6M77.6 413.4l-0.8 1.0M72.2 416.0l1.1 0.2M76.5 415.9l0.6 0.5M61.9 423.2l-1.4 0.1M67.2 423.6l1.4 0.3M66.5 411.1l-0.3 0.6M65.5 412.1l0.2 1.1M76.1 411.7l-0.5 0.3M64.5 422.3l0.4 0.8M71.4 414.9l-0.6 0.4M76.8 425.6l-0.1 0.5M75.6 411.5l-0.0 1.0M61.3 422.3l-0.7 0.9M68.0 420.2l-0.2 0.7M77.4 428.9l-1.3 0.9M66.6 428.8l1.0 0.2M62.7 419.2l-0.7 1.1M69.1 417.2l0.8 0.5M65.7 414.5l-0.7 0.8M68.8 414.6l-0.4 0.6" stroke="#444" stroke-width="0.45" fill="none" stroke-linecap="round"/>
</g>
<line x1="60.2" y1="418" x2="60.2" y2="428.8" stroke="#111" stroke-width="0.9"/>
<line x1="60.2" y1="428.6" x2="73" y2="428.6" stroke="#222" stroke-width="0.8"/>
</g>
<rect x="127.8" y="387.3" width="50.500000000000014" height="41.599999999999966" fill="#fff" stroke="#8a8a8a" stroke-width="0.8"/>
<line x1="143.6" y1="387.3" x2="143.6" y2="428.9" stroke="#8a8a8a" stroke-width="0.75"/>
<line x1="127.8" y1="416.1" x2="178.3" y2="416.1" stroke="#8a8a8a" stroke-width="0.75"/>
<text x="128.4" y="433.90" font-size="4.8" text-anchor="middle" fill="#000" stroke="#000" stroke-width="0.3">10</text>
<text x="131.4" y="432.10" font-size="3.5" text-anchor="start" fill="#000" stroke="#000" stroke-width="0.3">0</text>
<text transform="translate(125.8 429.2) rotate(-90) scale(0.72 1.04)" font-size="5.3" text-anchor="middle" fill="#000" stroke="#000" stroke-width="0.3">10</text>
<text transform="translate(123.8 426.4) rotate(-90) scale(0.95 1.04)" font-size="3.6" text-anchor="start" fill="#000" stroke="#000" stroke-width="0.3">0</text>
<text x="141.0" y="433.90" font-size="4.8" text-anchor="middle" fill="#000" stroke="#000" stroke-width="0.3">10</text>
<text x="144.0" y="432.10" font-size="3.5" text-anchor="start" fill="#000" stroke="#000" stroke-width="0.3">1</text>
<text transform="translate(125.8 418.4) rotate(-90) scale(0.72 1.04)" font-size="5.3" text-anchor="middle" fill="#000" stroke="#000" stroke-width="0.3">10</text>
<text transform="translate(123.8 415.6) rotate(-90) scale(0.95 1.04)" font-size="3.6" text-anchor="start" fill="#000" stroke="#000" stroke-width="0.3">1</text>
<text x="153.7" y="433.90" font-size="4.8" text-anchor="middle" fill="#000" stroke="#000" stroke-width="0.3">10</text>
<text x="156.7" y="432.10" font-size="3.5" text-anchor="start" fill="#000" stroke="#000" stroke-width="0.3">2</text>
<text transform="translate(125.8 407.6) rotate(-90) scale(0.72 1.04)" font-size="5.3" text-anchor="middle" fill="#000" stroke="#000" stroke-width="0.3">10</text>
<text transform="translate(123.8 404.9) rotate(-90) scale(0.95 1.04)" font-size="3.6" text-anchor="start" fill="#000" stroke="#000" stroke-width="0.3">2</text>
<text x="166.3" y="433.90" font-size="4.8" text-anchor="middle" fill="#000" stroke="#000" stroke-width="0.3">10</text>
<text x="169.3" y="432.10" font-size="3.5" text-anchor="start" fill="#000" stroke="#000" stroke-width="0.3">3</text>
<text transform="translate(125.8 396.8) rotate(-90) scale(0.72 1.04)" font-size="5.3" text-anchor="middle" fill="#000" stroke="#000" stroke-width="0.3">10</text>
<text transform="translate(123.8 394.1) rotate(-90) scale(0.95 1.04)" font-size="3.6" text-anchor="start" fill="#000" stroke="#000" stroke-width="0.3">3</text>
<text x="178.9" y="433.90" font-size="4.8" text-anchor="middle" fill="#000" stroke="#000" stroke-width="0.3">10</text>
<text x="181.9" y="432.10" font-size="3.5" text-anchor="start" fill="#000" stroke="#000" stroke-width="0.3">4</text>
<text transform="translate(125.8 386.0) rotate(-90) scale(0.72 1.04)" font-size="5.3" text-anchor="middle" fill="#000" stroke="#000" stroke-width="0.3">10</text>
<text transform="translate(123.8 383.2) rotate(-90) scale(0.95 1.04)" font-size="3.6" text-anchor="start" fill="#000" stroke="#000" stroke-width="0.3">4</text>
<clipPath id="c6"><rect x="128.0" y="387.3" width="50.30000000000001" height="41.499999999999964"/></clipPath>
<g clip-path="url(#c6)">
<path d="M150.7 425.2L148.7 426.8L146.8 428.6L143.8 428.7L140.8 427.8L138.0 427.5L135.1 426.6L132.5 425.0L129.2 423.4L126.1 420.9L126.2 417.6L128.6 415.2L129.3 413.1L128.6 410.1L130.1 408.0L132.7 407.2L135.1 405.9L138.0 405.0L141.2 405.9L144.2 407.6L146.9 409.6L148.2 412.5L148.4 415.2L150.6 417.4L153.7 420.5L153.6 423.6Z" fill="none" stroke="#777" stroke-width="0.45" stroke-linejoin="round"/>
<path d="M138.2 408.8L138.6 410.4L137.9 411.5L136.4 411.7L135.0 411.6L133.7 411.0L132.7 410.0L131.6 409.7L130.0 409.5L129.1 408.5L129.2 407.2L128.6 406.0L127.8 404.6L128.5 403.5L130.3 403.3L131.4 403.1L132.1 402.4L133.1 401.9L134.4 401.6L135.9 401.4L137.2 402.3L137.6 403.8L138.2 404.8L139.3 405.8L139.2 407.0L138.2 407.8Z" fill="none" stroke="#555" stroke-width="0.45" stroke-linejoin="round"/>
<path d="M143.6 421.2L144.6 421.8L145.3 422.7L144.0 423.8L142.0 424.7L140.1 425.4L138.3 426.1L136.4 426.4L134.5 426.8L132.4 427.2L130.8 426.9L129.7 426.4L128.2 426.1L127.2 425.4L128.2 424.2L129.9 423.2L130.5 422.3L131.1 421.3L132.6 420.4L134.5 419.6L136.6 419.0L138.7 418.8L140.3 419.1L142.0 419.2L143.5 419.5L143.8 420.3Z" fill="none" stroke="#333" stroke-width="0.55" stroke-linejoin="round"/>
<path d="M141.3 421.5L141.6 422.1L140.6 422.8L139.6 423.4L139.0 424.0L138.0 424.5L136.6 424.8L135.4 425.1L134.1 425.4L132.8 425.6L131.6 425.6L130.6 425.4L130.1 425.0L130.6 424.2L131.0 423.7L130.7 423.2L130.9 422.6L132.0 422.0L133.2 421.5L134.2 420.9L135.6 420.5L136.9 420.5L138.0 420.6L138.9 420.7L139.5 421.0L140.2 421.3Z" fill="none" stroke="#666" stroke-width="0.45" stroke-linejoin="round"/>
<path d="M144.0 416.2L144.2 417.2L144.5 419.0L143.3 419.5L141.5 418.7L140.1 418.1L138.8 417.7L137.7 416.9L136.7 416.0L135.5 415.2L134.7 414.2L134.6 413.1L134.0 411.9L133.5 410.4L134.9 410.0L136.9 410.6L138.0 410.6L138.6 409.7L139.9 409.5L141.3 410.1L142.7 410.6L144.1 411.5L144.7 412.7L145.2 413.8L145.7 414.9L145.1 415.8Z" fill="none" stroke="#555" stroke-width="0.45" stroke-linejoin="round"/>
<path d="M129 419L132 416.5L135 416" fill="none" stroke="#222" stroke-width="0.8"/>
<path d="M134.9 410.3l1.3 0.7M129.2 405.1l0.8 1.7M148.9 413.2l0.6 0.2M132.0 422.5l0.2 2.0M140.4 423.8l0.6 0.3M142.6 414.7l0.7 0.5M146.5 427.4l-1.2 0.1M147.0 411.1l-1.5 1.0M133.6 417.0l0.2 0.5M149.6 422.8l0.1 0.6M129.8 409.4l-0.7 1.7M140.6 418.5l0.7 0.5M130.7 417.1l0.7 0.3M139.9 417.0l-0.6 1.4M140.2 411.6l-0.8 1.3M134.2 418.8l-0.7 1.0M133.9 411.4l-1.4 1.1M144.5 421.5l0.6 0.1M133.7 419.5l-1.4 0.3M132.9 423.4l1.1 0.6M130.8 422.8l-1.8 0.6M142.5 423.8l-0.0 1.4M143.5 423.2l0.6 0.1M142.2 408.4l0.2 0.5M149.6 423.5l0.1 0.7M137.2 402.7l-1.2 1.3M137.6 408.8l-0.5 0.5M143.8 428.4l-0.4 0.3M129.9 403.3l-0.8 1.2M141.5 413.2l0.4 1.4M144.9 426.6l-1.1 1.3M145.7 424.6l0.4 1.8M139.5 420.5l0.7 0.7M137.1 409.4l1.1 0.3M134.5 412.0l0.8 0.1M136.5 422.3l-1.4 1.2M148.7 415.4l1.6 0.6M136.2 418.2l0.5 1.2M141.8 418.8l-0.2 1.9M138.6 426.5l-1.1 1.6M130.3 406.2l1.2 1.5M132.6 412.7l-0.9 1.3M147.4 421.8l0.6 0.6M128.7 420.0l0.7 0.5M143.4 419.0l-0.5 1.5M137.4 404.1l1.2 0.4M135.1 422.3l0.6 0.3M135.9 411.9l-0.7 1.0M150.2 423.3l-0.5 0.8M145.1 417.0l-0.4 0.7M131.7 402.8l-1.1 0.1M145.0 416.5l0.5 0.4M137.5 421.0l1.5 0.7M134.5 410.6l-0.0 0.7M134.5 423.1l0.7 0.8M133.0 406.4l0.4 1.0M144.7 413.7l-0.5 0.2M145.3 424.3l0.4 0.4M140.0 420.6l0.6 0.2M134.0 412.8l0.6 0.2M137.4 413.6l-1.3 0.3M129.9 406.4l-0.9 1.0M134.2 404.9l-0.7 0.3M130.2 407.7l-1.2 0.3M139.8 409.2l1.2 0.9M137.4 403.5l-1.2 0.1M145.0 414.9l1.2 0.1M147.3 415.6l0.9 0.8M143.7 418.9l1.5 0.8M133.9 417.3l-0.6 0.2M133.0 421.7l-0.5 1.8M138.5 419.7l1.9 0.1M134.1 413.8l-0.1 1.9M136.4 411.8l0.7 1.3M132.2 424.0l1.4 0.0M134.7 413.2l-0.3 1.5M131.6 407.0l1.8 0.7M131.9 404.0l-0.1 1.4M134.1 404.9l-0.3 1.1M138.6 425.8l-0.9 1.6M135.5 408.4l-1.8 0.2M138.9 415.4l-1.5 0.8M145.0 414.9l0.8 0.3M145.1 417.0l-1.5 1.1M134.2 410.6l-0.1 1.5M129.9 421.5l-0.5 1.1M145.5 423.2l1.2 0.0M145.6 420.6l-0.3 0.7M134.1 412.5l-0.8 0.1M138.6 427.9l-0.8 0.3M147.1 410.4l-0.8 1.4M131.3 406.5l0.7 0.6M138.6 412.2l1.3 0.3M137.2 420.4l0.1 0.7M137.6 427.9l-1.3 1.2M144.7 418.4l-1.2 1.6M133.1 422.2l0.5 0.7M149.4 417.4l-1.6 0.8M132.5 420.2l0.8 0.0M134.9 420.6l-0.5 0.0M136.7 415.1l0.6 1.0M140.4 407.5l0.6 0.1M132.2 402.7l-0.6 1.4M134.8 423.0l-0.7 0.8M129.3 404.5l-0.6 0.9M148.7 423.3l1.3 0.4M133.0 420.5l-1.4 1.0M134.0 402.7l-0.7 1.2M131.6 405.6l-0.2 0.6M134.7 412.3l-0.2 1.6M128.8 421.0l0.7 0.6M144.6 420.0l-0.7 1.7M133.3 409.0l-0.4 0.8M132.1 406.6l-1.3 1.1M146.6 427.8l-0.8 0.6M136.2 420.9l1.4 0.2M131.1 414.7l-0.1 1.0M146.6 415.3l-0.5 0.4M129.8 411.2l0.0 0.9M136.3 413.8l-1.0 1.3M137.7 413.0l-1.9 0.4M139.8 418.5l0.4 0.4M131.4 413.5l-0.3 0.9M129.8 421.8l-0.9 0.8M130.2 411.4l1.9 0.6M129.3 408.4l-0.5 0.5M132.3 415.4l-0.7 0.4M132.5 422.2l0.2 1.0M131.2 407.0l-0.7 0.1M134.7 421.5l-1.8 0.6M140.3 427.7l-0.3 0.9M140.1 420.8l-0.5 0.5M130.8 423.6l0.4 0.8M134.6 413.6l-0.7 0.0M132.5 421.6l0.4 0.7M138.9 423.8l-1.2 0.6M143.8 426.1l-1.0 0.1M150.1 423.7l0.7 0.8M137.7 410.2l0.2 0.6M133.9 426.4l0.4 1.4M151.1 421.9l1.4 1.3M146.9 421.9l-0.7 0.5M145.1 411.0l-0.6 0.3M142.0 409.8l-0.9 0.5M149.9 424.6l-0.7 0.3M145.6 418.9l1.8 0.3M142.2 413.2l0.8 1.5M148.3 425.2l0.8 0.6M134.5 402.9l0.3 0.5M140.0 411.7l-1.6 1.1M136.1 418.3l-1.1 0.4M151.4 421.3l1.0 1.5M143.3 424.0l-0.1 1.2M138.8 425.5l-0.4 0.7M137.4 410.5l-1.5 0.2M128.9 417.1l0.3 1.5M141.6 423.8l-0.8 0.6M133.8 421.6l-0.7 0.5M139.3 411.0l-1.2 1.5M133.2 408.8l0.8 1.4M132.9 415.9l-0.0 1.5M147.7 425.2l0.8 1.7M141.1 426.1l-1.8 0.6M141.3 427.0l-0.1 0.7M144.4 423.3l0.3 1.4M134.7 408.0l0.3 1.2M146.6 421.7l0.6 0.6M143.7 426.2l1.1 0.8M146.7 421.7l-1.0 1.2M135.1 424.3l-0.6 0.1M148.7 419.7l1.1 0.5M136.7 422.2l0.6 0.6M132.2 411.9l-0.3 0.9M132.2 406.3l0.8 0.2M136.2 414.6l1.0 0.7M139.4 428.2l0.1 1.9M132.4 402.1l-1.2 1.6M138.5 410.3l0.2 1.0M146.0 411.4l1.6 0.8M150.1 421.1l0.6 1.3M139.2 408.6l-0.3 1.5M147.1 427.5l0.9 0.5M150.1 422.9l-0.4 1.5M136.8 427.4l-0.2 1.1M132.7 403.3l-1.6 0.5" stroke="#2e2e2e" stroke-width="0.5" fill="none" stroke-linecap="round"/>
<path d="M131.1 411.1L130.5 411.3L129.9 410.8L129.9 410.1L129.5 409.3L130.1 409.0L130.7 409.1L131.2 409.4L131.8 410.0L131.3 410.6Z" fill="none" stroke="#444" stroke-width="0.4" stroke-linejoin="round"/>
<path d="M150.8 419.0L150.3 419.0L149.8 418.6L149.4 417.9L149.8 417.4L150.0 416.8L150.6 416.9L151.1 417.3L151.2 418.0L151.4 418.8Z" fill="none" stroke="#444" stroke-width="0.4" stroke-linejoin="round"/>
<path d="M138.0 412.9L137.6 412.3L137.1 411.9L137.2 411.2L137.6 410.7L138.3 410.8L139.0 410.8L139.1 411.5L139.1 412.1L138.6 412.6Z" fill="none" stroke="#444" stroke-width="0.4" stroke-linejoin="round"/>
<path d="M134.3 419.4L134.0 419.6L133.7 419.8L133.3 419.6L132.8 419.4L132.8 419.1L133.0 418.8L133.4 418.8L133.9 418.8L134.1 419.1Z" fill="none" stroke="#444" stroke-width="0.4" stroke-linejoin="round"/>
<path d="M130.1 408.9L129.8 408.2L130.5 407.6L131.3 407.4L132.2 407.6L132.8 408.1L132.4 408.9L132.0 409.6L131.2 410.0L130.4 409.6Z" fill="none" stroke="#444" stroke-width="0.4" stroke-linejoin="round"/>
<path d="M140.0 408.1L139.1 408.5L138.6 407.6L138.2 406.9L138.3 406.0L139.0 405.4L139.8 405.7L140.8 405.8L140.9 406.8L140.7 407.6Z" fill="none" stroke="#444" stroke-width="0.4" stroke-linejoin="round"/>
<path d="M143.7 426.7L143.7 427.0L143.2 426.8L142.8 426.7L142.4 426.4L142.4 426.1L142.8 426.1L143.1 425.8L143.5 426.1L143.7 426.4Z" fill="none" stroke="#444" stroke-width="0.4" stroke-linejoin="round"/>
<path d="M132.0 406.8L131.7 406.4L131.7 405.9L132.1 405.5L132.5 405.1L132.9 405.3L133.2 405.7L133.2 406.2L133.0 406.7L132.5 406.8Z" fill="none" stroke="#444" stroke-width="0.4" stroke-linejoin="round"/>
<path d="M138.6 411.8L138.6 411.4L139.3 411.3L139.8 411.1L140.3 411.3L140.5 411.7L140.2 412.0L140.0 412.5L139.3 412.4L138.8 412.2Z" fill="none" stroke="#444" stroke-width="0.4" stroke-linejoin="round"/>
<path d="M134.9 406.0L134.6 406.4L134.1 406.8L133.4 406.8L133.3 406.1L132.8 405.6L133.1 405.0L133.8 404.9L134.3 405.2L135.2 405.3Z" fill="none" stroke="#444" stroke-width="0.4" stroke-linejoin="round"/>
<path d="M138.4 422.3L138.6 421.6L138.9 420.9L139.7 420.8L140.4 420.8L140.8 421.3L141.0 422.0L140.3 422.4L139.6 422.9L138.9 422.7Z" fill="none" stroke="#444" stroke-width="0.4" stroke-linejoin="round"/>
<path d="M152.4 424.3L151.6 424.8L150.7 424.8L149.8 424.3L149.0 423.7L149.5 422.9L149.9 422.2L150.9 422.1L151.8 422.5L152.0 423.4Z" fill="none" stroke="#444" stroke-width="0.4" stroke-linejoin="round"/>
<path d="M131.3 422.1L131.4 422.8L130.6 423.4L129.8 422.9L128.8 422.8L128.4 422.0L129.0 421.4L129.7 421.1L130.7 420.6L131.2 421.4Z" fill="none" stroke="#444" stroke-width="0.4" stroke-linejoin="round"/>
<path d="M141.5 420.4L141.3 419.6L142.1 419.4L142.7 419.2L143.4 419.4L143.7 420.0L143.3 420.6L143.1 421.4L142.3 421.3L141.8 420.9Z" fill="none" stroke="#444" stroke-width="0.4" stroke-linejoin="round"/>
<path d="M137.3 409.5L136.5 408.9L136.9 407.8L137.9 407.6L138.8 407.2L139.8 407.5L139.6 408.6L139.4 409.4L138.9 410.5L137.8 410.2Z" fill="none" stroke="#444" stroke-width="0.4" stroke-linejoin="round"/>
<path d="M137.8 421.4L137.5 421.8L136.9 421.7L136.4 421.4L136.0 421.0L136.1 420.5L136.6 420.2L137.1 420.1L137.7 420.4L137.8 420.9Z" fill="none" stroke="#444" stroke-width="0.4" stroke-linejoin="round"/>
<path d="M150.3 421.7L149.7 421.6L149.8 421.0L149.9 420.5L150.1 420.1L150.7 420.0L150.9 420.5L151.3 420.8L151.2 421.4L150.7 421.6Z" fill="none" stroke="#444" stroke-width="0.4" stroke-linejoin="round"/>
<path d="M135.1 406.0L134.5 405.4L135.1 404.5L135.4 403.6L136.4 403.5L137.1 403.6L137.3 404.4L137.5 405.3L136.6 405.8L135.8 406.3Z" fill="none" stroke="#444" stroke-width="0.4" stroke-linejoin="round"/>
<path d="M131.4 415.8L131.3 414.9L131.1 414.3L131.5 413.5L132.2 413.1L132.7 413.3L133.4 413.4L133.1 414.4L132.7 415.1L132.1 415.6Z" fill="none" stroke="#444" stroke-width="0.4" stroke-linejoin="round"/>
<path d="M139.6 417.7L138.8 417.6L138.0 417.0L138.3 416.1L138.4 415.2L139.2 414.7L140.0 415.0L140.4 415.8L141.0 416.6L140.3 417.4Z" fill="none" stroke="#444" stroke-width="0.4" stroke-linejoin="round"/>
<path d="M145.0 411.5L144.6 411.9L144.3 412.5L143.6 412.2L143.3 411.8L143.1 411.3L143.1 410.7L143.9 410.7L144.4 410.6L145.0 410.9Z" fill="none" stroke="#444" stroke-width="0.4" stroke-linejoin="round"/>
<path d="M141.0 415.1L140.1 415.1L139.3 414.7L139.1 413.9L138.8 413.0L139.6 412.6L140.3 412.3L141.0 412.8L141.7 413.5L141.2 414.3Z" fill="none" stroke="#444" stroke-width="0.4" stroke-linejoin="round"/>
<path d="M133.1 414.7L133.3 414.3L133.7 414.0L134.3 413.6L134.7 414.0L135.1 414.3L135.1 414.7L134.6 415.1L134.0 415.0L133.2 415.2Z" fill="none" stroke="#444" stroke-width="0.4" stroke-linejoin="round"/>
<path d="M149.3 418.7L148.6 418.2L148.5 417.2L148.7 416.1L149.7 416.0L150.7 415.7L151.3 416.5L151.5 417.4L150.9 418.2L150.3 419.1Z" fill="none" stroke="#444" stroke-width="0.4" stroke-linejoin="round"/>
<path d="M131.0 426.0L130.9 425.2L131.0 424.3L131.6 423.6L132.5 423.4L133.1 423.9L133.7 424.5L133.4 425.4L132.7 426.0L131.9 426.2Z" fill="none" stroke="#444" stroke-width="0.4" stroke-linejoin="round"/>
<path d="M134.8 419.8L134.2 420.2L133.4 419.9L132.8 419.7L132.1 419.1L132.6 418.6L133.0 418.2L133.7 417.9L134.4 418.5L134.4 419.1Z" fill="none" stroke="#444" stroke-width="0.4" stroke-linejoin="round"/>
<path d="M148.1 406.9l-0.2 1.0M150.7 405.3l-0.7 0.2M153.7 411.9l0.8 0.4M153.7 407.1l-0.1 0.6M146.2 405.6l0.6 0.2M151.0 408.5l-0.9 0.2M148.9 411.6l-0.3 0.8M152.9 409.4l0.4 0.8M148.4 411.8l0.8 0.8M146.5 404.1l-0.1 0.6M150.1 404.9l-0.8 0.5M151.5 411.4l-0.9 0.0" stroke="#888" stroke-width="0.4" fill="none" stroke-linecap="round"/>
</g>
<text transform="translate(279,231.8) scale(0.9,1)" font-size="13.7">D</text>
<text x="463" y="284.9" font-size="10.1" text-anchor="start" fill="#000" >no cytokine</text>
<text x="461.8" y="412.4" font-size="10.1" text-anchor="start" fill="#000" >+ IL-7</text>
<text x="317" y="284.8" font-size="10.2" text-anchor="middle" fill="#000" transform="rotate(-90 317 284.8)" >CD25+ T cells (%)</text>
<line x1="342" y1="241.3" x2="342" y2="329.2" stroke="#6a6a6a" stroke-width="0.8"/>
<line x1="342" y1="328.8" x2="426.6" y2="328.8" stroke="#6a6a6a" stroke-width="0.8"/>
<line x1="340" y1="328.8" x2="342" y2="328.8" stroke="#6a6a6a" stroke-width="0.7"/>
<text x="336.6" y="331.2" font-size="6.5" text-anchor="end" fill="#000" >0</text>
<line x1="340" y1="311.3" x2="342" y2="311.3" stroke="#6a6a6a" stroke-width="0.7"/>
<text x="336.6" y="313.7" font-size="6.5" text-anchor="end" fill="#000" >20</text>
<line x1="340" y1="293.8" x2="342" y2="293.8" stroke="#6a6a6a" stroke-width="0.7"/>
<text x="336.6" y="296.2" font-size="6.5" text-anchor="end" fill="#000" >40</text>
<line x1="340" y1="276.3" x2="342" y2="276.3" stroke="#6a6a6a" stroke-width="0.7"/>
<text x="336.6" y="278.7" font-size="6.5" text-anchor="end" fill="#000" >60</text>
<line x1="340" y1="258.8" x2="342" y2="258.8" stroke="#6a6a6a" stroke-width="0.7"/>
<text x="336.6" y="261.2" font-size="6.5" text-anchor="end" fill="#000" >80</text>
<line x1="340" y1="241.3" x2="342" y2="241.3" stroke="#6a6a6a" stroke-width="0.7"/>
<text x="336.6" y="243.70000000000002" font-size="6.5" text-anchor="end" fill="#000" >100</text>
<line x1="363.8" y1="327.5" x2="363.8" y2="330.1" stroke="#6a6a6a" stroke-width="0.7"/>
<line x1="384.6" y1="327.5" x2="384.6" y2="330.1" stroke="#6a6a6a" stroke-width="0.7"/>
<line x1="405.4" y1="327.5" x2="405.4" y2="330.1" stroke="#6a6a6a" stroke-width="0.7"/>
<line x1="426.3" y1="327.5" x2="426.3" y2="330.1" stroke="#6a6a6a" stroke-width="0.7"/>
<text x="355.6" y="342.6" font-size="6.8" text-anchor="middle" fill="#000" >0</text>
<text x="375" y="342.6" font-size="6.8" text-anchor="middle" fill="#000" >1</text>
<text x="394.2" y="342.6" font-size="6.8" text-anchor="middle" fill="#000" >2</text>
<text x="413.6" y="342.6" font-size="6.8" text-anchor="middle" fill="#000" >3</text>
<text x="375.6" y="356.6" font-size="10.1" text-anchor="start" fill="#000" >days</text>
<polyline points="353.8,327 374.5,326.8 395,325.5 415.8,323" fill="none" stroke="#111" stroke-width="1.1"/>
<rect x="351.40000000000003" y="324.6" width="4.8" height="4.8" fill="#000" stroke="#000" stroke-width="0.5"/>
<rect x="372.1" y="324.40000000000003" width="4.8" height="4.8" fill="#000" stroke="#000" stroke-width="0.5"/>
<rect x="392.6" y="323.1" width="4.8" height="4.8" fill="#000" stroke="#000" stroke-width="0.5"/>
<rect x="413.40000000000003" y="320.6" width="4.8" height="4.8" fill="#000" stroke="#000" stroke-width="0.5"/>
<polyline points="353.8,326.8 374.5,321.3 395,311.3 415.8,313" fill="none" stroke="#111" stroke-width="0.9"/>
<path d="M353.8 324.1L356.5 326.8L353.8 329.5L351.1 326.8Z" fill="#000" stroke="#000" stroke-width="0.5"/>
<path d="M374.5 318.6L377.2 321.3L374.5 324.0L371.8 321.3Z" fill="#000" stroke="#000" stroke-width="0.5"/>
<path d="M395 308.6L397.7 311.3L395 314.0L392.3 311.3Z" fill="#000" stroke="#000" stroke-width="0.5"/>
<path d="M415.8 310.3L418.5 313L415.8 315.7L413.1 313Z" fill="#000" stroke="#000" stroke-width="0.5"/>
<polyline points="353.8,327 374.5,326.3 395,324 415.8,322.3" fill="none" stroke="#111" stroke-width="0.8"/>
<path d="M353.8 323.9L356.90000000000003 327L353.8 330.1L350.7 327Z" fill="#fff" stroke="#3a3a3a" stroke-width="0.6"/>
<path d="M374.5 323.2L377.6 326.3L374.5 329.40000000000003L371.4 326.3Z" fill="#fff" stroke="#3a3a3a" stroke-width="0.6"/>
<path d="M395 320.9L398.1 324L395 327.1L391.9 324Z" fill="#fff" stroke="#3a3a3a" stroke-width="0.6"/>
<path d="M415.8 319.2L418.90000000000003 322.3L415.8 325.40000000000003L412.7 322.3Z" fill="#fff" stroke="#3a3a3a" stroke-width="0.6"/>
<polyline points="353.8,327 374.5,326 395,323.3 415.8,321.8" fill="none" stroke="#111" stroke-width="0.8"/>
<rect x="351.1" y="324.3" width="5.4" height="5.4" fill="#fff" stroke="#3a3a3a" stroke-width="0.65"/>
<rect x="371.8" y="323.3" width="5.4" height="5.4" fill="#fff" stroke="#3a3a3a" stroke-width="0.65"/>
<rect x="392.3" y="320.6" width="5.4" height="5.4" fill="#fff" stroke="#3a3a3a" stroke-width="0.65"/>
<rect x="413.1" y="319.1" width="5.4" height="5.4" fill="#fff" stroke="#3a3a3a" stroke-width="0.65"/>
<line x1="361.3" y1="239.3" x2="372.6" y2="239.3" stroke="#333" stroke-width="0.7"/>
<path d="M367 236.70000000000002L369.6 239.3L367 241.9L364.4 239.3Z" fill="#000" stroke="#000" stroke-width="0.5"/>
<text x="374.6" y="241.8" font-size="7.06" text-anchor="start" fill="#000" >anti-CD3 / anti-Fas</text>
<line x1="361.3" y1="252" x2="372.6" y2="252" stroke="#333" stroke-width="0.7"/>
<path d="M367 249.2L369.8 252L367 254.8L364.2 252Z" fill="#fff" stroke="#3a3a3a" stroke-width="0.55"/>
<text x="374.6" y="254.5" font-size="7.06" text-anchor="start" fill="#000" >anti-CD3 / control IgM</text>
<line x1="361.3" y1="265" x2="372.6" y2="265" stroke="#333" stroke-width="0.7"/>
<rect x="364.7" y="262.7" width="4.6" height="4.6" fill="#000" stroke="#000" stroke-width="0.5"/>
<text x="374.6" y="267.5" font-size="7.06" text-anchor="start" fill="#000" >anti-Fas</text>
<line x1="361.3" y1="277.6" x2="372.6" y2="277.6" stroke="#333" stroke-width="0.7"/>
<rect x="364.4" y="275.0" width="5.2" height="5.2" fill="#fff" stroke="#3a3a3a" stroke-width="0.6"/>
<text x="374.6" y="280.1" font-size="7.06" text-anchor="start" fill="#000" >control IgM</text>
<text x="317" y="411" font-size="10.2" text-anchor="middle" fill="#000" transform="rotate(-90 317 411)" >CD25+ T cells (%)</text>
<line x1="342.5" y1="367.5" x2="342.5" y2="454.9" stroke="#6a6a6a" stroke-width="0.8"/>
<line x1="342.5" y1="454.5" x2="420.2" y2="454.5" stroke="#6a6a6a" stroke-width="0.8"/>
<line x1="340.5" y1="454.5" x2="342.5" y2="454.5" stroke="#6a6a6a" stroke-width="0.7"/>
<text x="336.9" y="456.9" font-size="6.5" text-anchor="end" fill="#000" >0</text>
<line x1="340.5" y1="437.1" x2="342.5" y2="437.1" stroke="#6a6a6a" stroke-width="0.7"/>
<text x="336.9" y="439.5" font-size="6.5" text-anchor="end" fill="#000" >20</text>
<line x1="340.5" y1="419.7" x2="342.5" y2="419.7" stroke="#6a6a6a" stroke-width="0.7"/>
<text x="336.9" y="422.09999999999997" font-size="6.5" text-anchor="end" fill="#000" >40</text>
<line x1="340.5" y1="402.3" x2="342.5" y2="402.3" stroke="#6a6a6a" stroke-width="0.7"/>
<text x="336.9" y="404.7" font-size="6.5" text-anchor="end" fill="#000" >60</text>
<line x1="340.5" y1="384.9" x2="342.5" y2="384.9" stroke="#6a6a6a" stroke-width="0.7"/>
<text x="336.9" y="387.29999999999995" font-size="6.5" text-anchor="end" fill="#000" >80</text>
<line x1="340.5" y1="367.5" x2="342.5" y2="367.5" stroke="#6a6a6a" stroke-width="0.7"/>
<text x="336.9" y="369.9" font-size="6.5" text-anchor="end" fill="#000" >100</text>
<line x1="362" y1="453.2" x2="362" y2="455.8" stroke="#6a6a6a" stroke-width="0.7"/>
<line x1="381.3" y1="453.2" x2="381.3" y2="455.8" stroke="#6a6a6a" stroke-width="0.7"/>
<line x1="400.8" y1="453.2" x2="400.8" y2="455.8" stroke="#6a6a6a" stroke-width="0.7"/>
<line x1="420" y1="453.2" x2="420" y2="455.8" stroke="#6a6a6a" stroke-width="0.7"/>
<text x="352.5" y="467" font-size="6.8" text-anchor="middle" fill="#000" >0</text>
<text x="372" y="467" font-size="6.8" text-anchor="middle" fill="#000" >1</text>
<text x="391.5" y="467" font-size="6.8" text-anchor="middle" fill="#000" >2</text>
<text x="410.5" y="467" font-size="6.8" text-anchor="middle" fill="#000" >3</text>
<text x="372.6" y="480.5" font-size="10.1" text-anchor="start" fill="#000" >days</text>
<polyline points="352.5,409.3 371.8,400.5 391.3,373 410.5,374.3" fill="none" stroke="#111" stroke-width="0.9"/>
<path d="M352.5 406.6L355.2 409.3L352.5 412.0L349.8 409.3Z" fill="#000" stroke="#000" stroke-width="0.5"/>
<path d="M371.8 397.8L374.5 400.5L371.8 403.2L369.1 400.5Z" fill="#000" stroke="#000" stroke-width="0.5"/>
<path d="M391.3 370.3L394.0 373L391.3 375.7L388.6 373Z" fill="#000" stroke="#000" stroke-width="0.5"/>
<path d="M410.5 371.6L413.2 374.3L410.5 377.0L407.8 374.3Z" fill="#000" stroke="#000" stroke-width="0.5"/>
<polyline points="352.5,409.3 371.8,433.3 391.3,436.8 410.5,440" fill="none" stroke="#111" stroke-width="1.1"/>
<rect x="350.1" y="406.90000000000003" width="4.8" height="4.8" fill="#000" stroke="#000" stroke-width="0.5"/>
<rect x="369.40000000000003" y="430.90000000000003" width="4.8" height="4.8" fill="#000" stroke="#000" stroke-width="0.5"/>
<rect x="388.90000000000003" y="434.40000000000003" width="4.8" height="4.8" fill="#000" stroke="#000" stroke-width="0.5"/>
<rect x="408.1" y="437.6" width="4.8" height="4.8" fill="#000" stroke="#000" stroke-width="0.5"/>
<polyline points="352.5,409.3 371.8,427 391.3,427.5 410.5,439.5" fill="none" stroke="#111" stroke-width="0.8"/>
<path d="M352.5 406.2L355.6 409.3L352.5 412.40000000000003L349.4 409.3Z" fill="#fff" stroke="#3a3a3a" stroke-width="0.6"/>
<path d="M371.8 423.9L374.90000000000003 427L371.8 430.1L368.7 427Z" fill="#fff" stroke="#3a3a3a" stroke-width="0.6"/>
<path d="M391.3 424.4L394.40000000000003 427.5L391.3 430.6L388.2 427.5Z" fill="#fff" stroke="#3a3a3a" stroke-width="0.6"/>
<path d="M410.5 436.4L413.6 439.5L410.5 442.6L407.4 439.5Z" fill="#fff" stroke="#3a3a3a" stroke-width="0.6"/>
<polyline points="352.5,409.3 371.8,432 391.3,440 410.5,441.8" fill="none" stroke="#111" stroke-width="0.8"/>
<rect x="349.8" y="406.6" width="5.4" height="5.4" fill="#fff" stroke="#3a3a3a" stroke-width="0.65"/>
<rect x="369.1" y="429.3" width="5.4" height="5.4" fill="#fff" stroke="#3a3a3a" stroke-width="0.65"/>
<rect x="388.6" y="437.3" width="5.4" height="5.4" fill="#fff" stroke="#3a3a3a" stroke-width="0.65"/>
<rect x="407.8" y="439.1" width="5.4" height="5.4" fill="#fff" stroke="#3a3a3a" stroke-width="0.65"/>
</svg>
</body></html>
